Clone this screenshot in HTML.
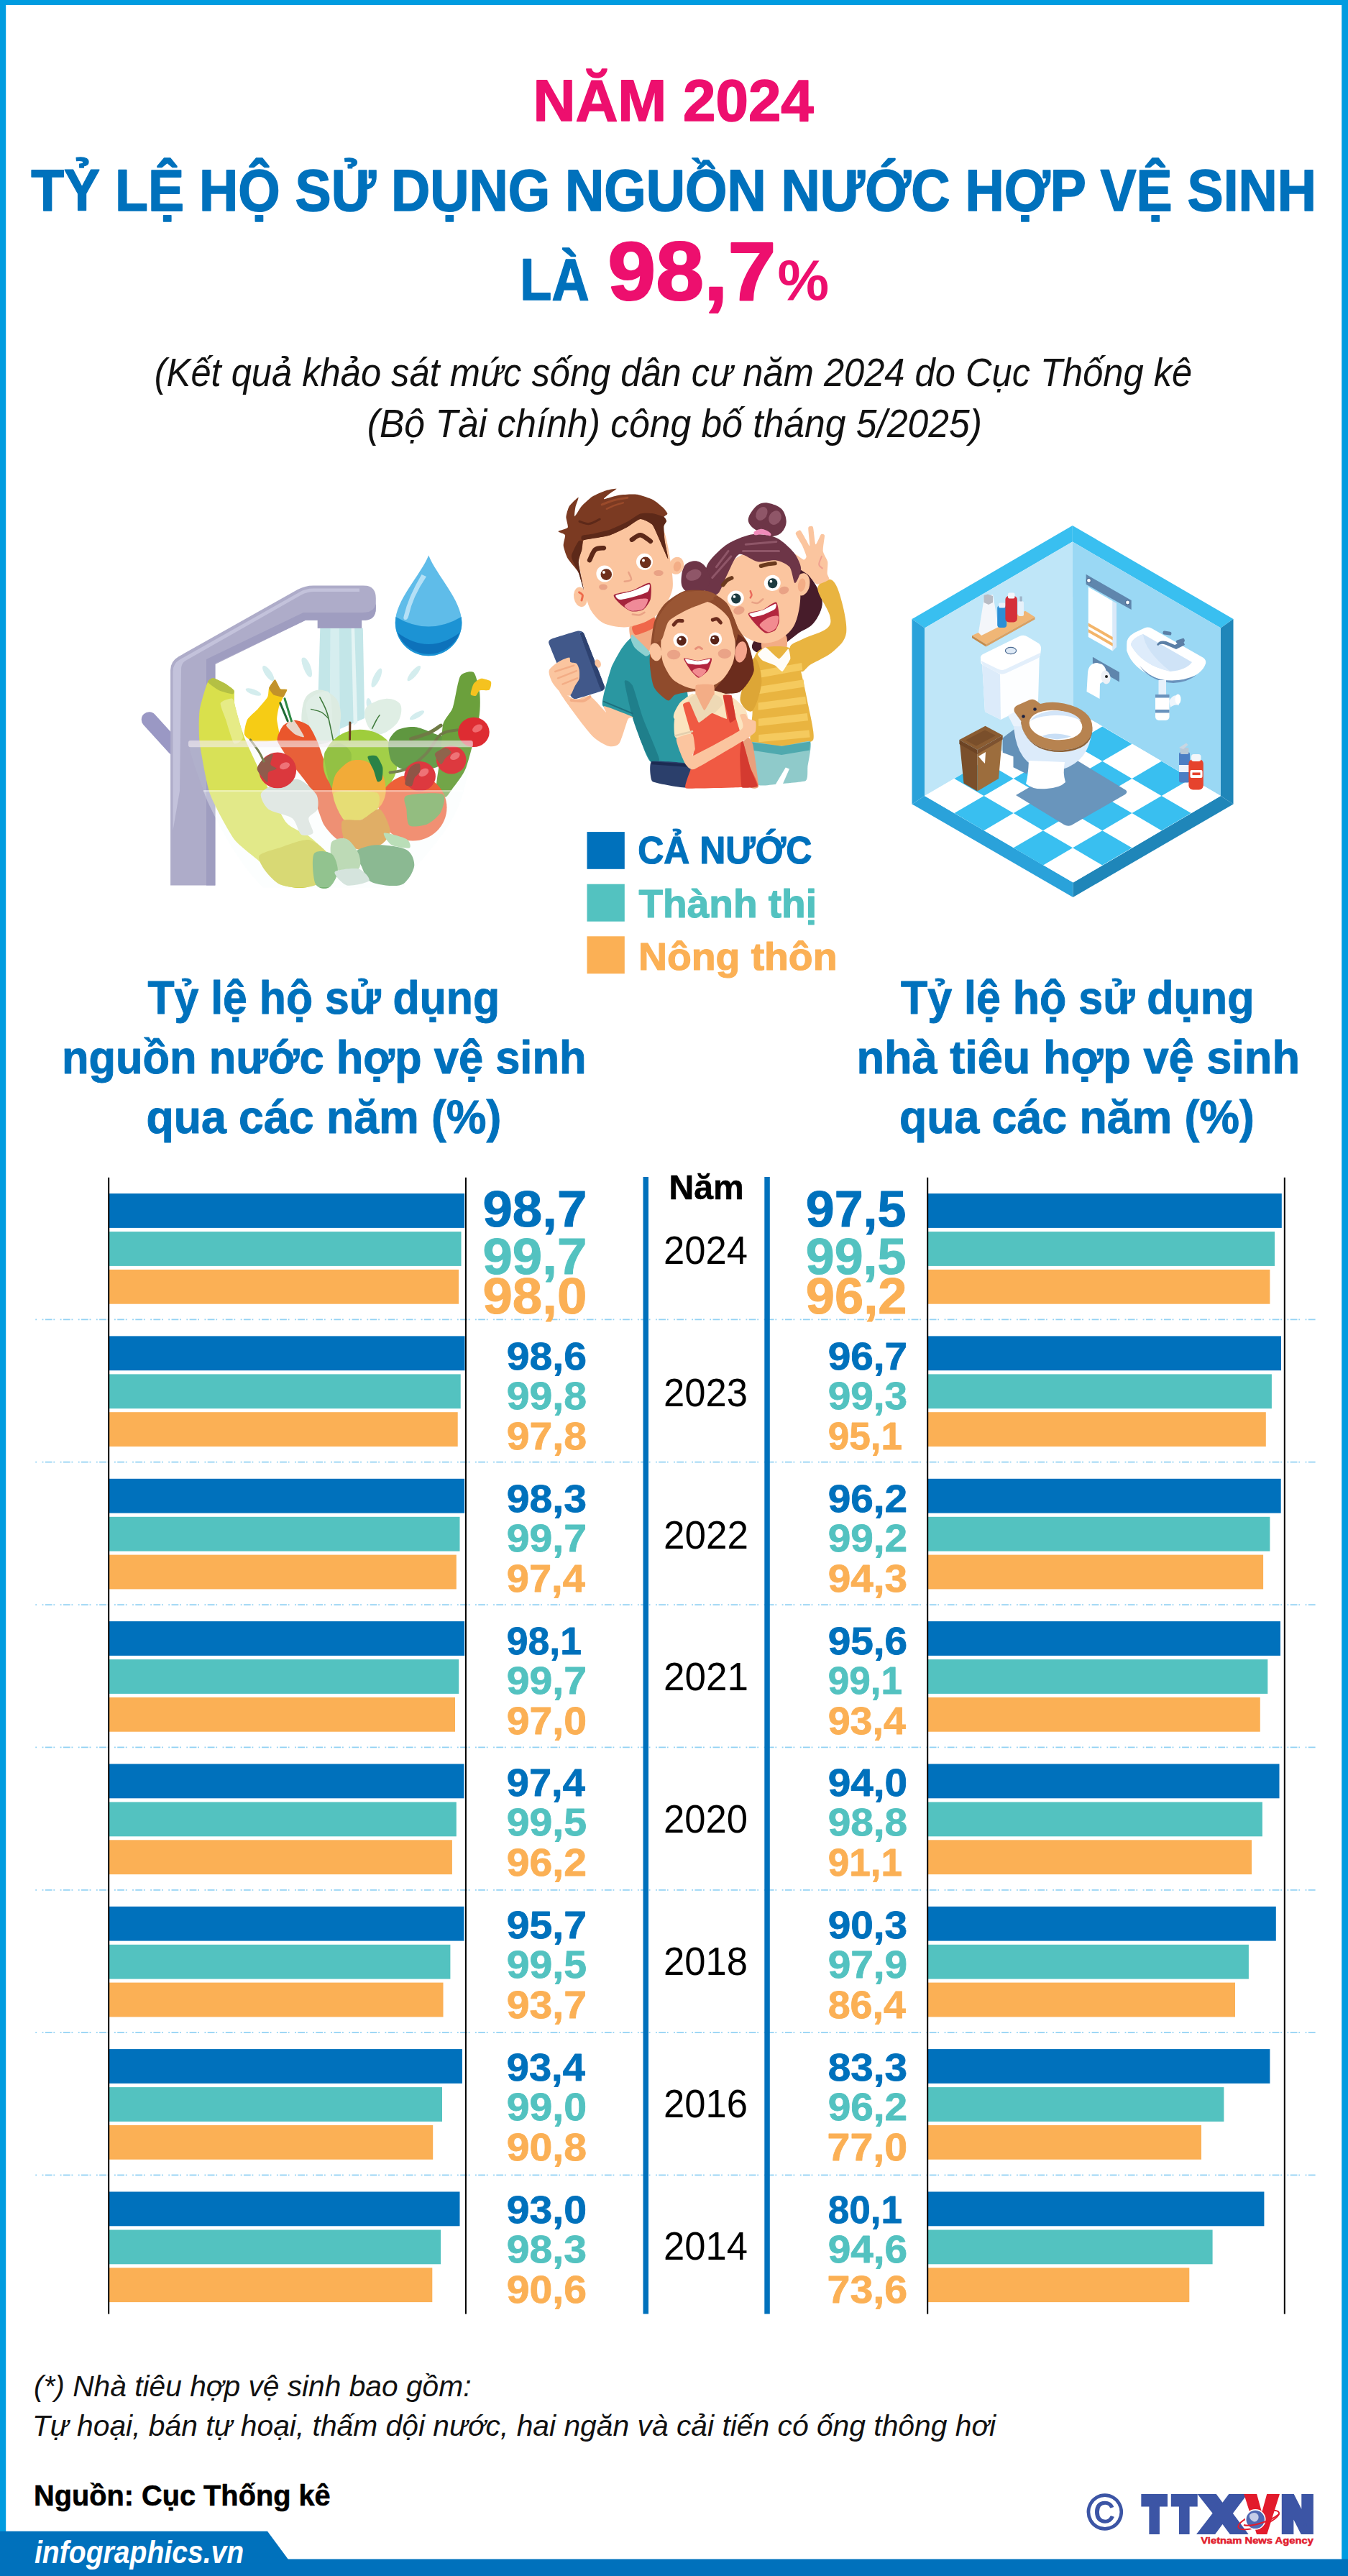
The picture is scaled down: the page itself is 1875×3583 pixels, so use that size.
<!DOCTYPE html>
<html lang="vi"><head><meta charset="utf-8"><title>Tỷ lệ hộ sử dụng nguồn nước hợp vệ sinh năm 2024</title>
<style>html,body{margin:0;padding:0;background:#fff}svg{display:block}text{font-family:'Liberation Sans',sans-serif;white-space:pre}</style>
</head><body>
<svg width="1875" height="3583" viewBox="0 0 1875 3583">
<rect x="0" y="0" width="1875" height="3583" fill="#fff"/>
<rect x="0" y="0" width="1875" height="7" fill="#009ce0"/>
<rect x="0" y="0" width="8.2" height="3583" fill="#009ce0"/>
<rect x="1866.2" y="0" width="8.8" height="3583" fill="#009ce0"/>
<rect x="0" y="3559.5" width="1875" height="23.5" fill="#0071bc"/>
<polygon points="0,3520.8 372,3520.8 401,3560 0,3560" fill="#0071bc"/>
<g id="veg">
<line x1="207.5" y1="1001" x2="243" y2="1040" stroke="#9a98c4" stroke-width="21.5" stroke-linecap="round"/>
<polygon points="445.3,873.8 504.8,873.8 507.2,998.9 440.8,1028.0" fill="#c3e6e8" />
<polygon points="459.5,873.8 471.9,873.8 473.0,1025.9 458.4,1028.0" fill="#d6eeef" />
<polygon points="488.6,873.8 493.1,873.8 497.3,1005.1 491.7,1009.3" fill="#e4f4f4" />
<ellipse cx="426.2" cy="926.2" rx="4.6" ry="12.5" fill="#d4edee" transform="rotate(-25 426.2 926.2)" />
<ellipse cx="523.9" cy="942.8" rx="4.6" ry="14.5" fill="#d4edee" transform="rotate(25 523.9 942.8)" />
<ellipse cx="575.8" cy="936.6" rx="4.2" ry="13.5" fill="#d4edee" transform="rotate(40 575.8 936.6)" />
<ellipse cx="580.0" cy="994.7" rx="3.7" ry="11.4" fill="#d4edee" transform="rotate(60 580.0 994.7)" />
<ellipse cx="513.5" cy="980.2" rx="3.7" ry="9.3" fill="#d4edee" transform="rotate(-10 513.5 980.2)" />
<ellipse cx="373.2" cy="936.6" rx="4.6" ry="12.5" fill="#d4edee" transform="rotate(-35 373.2 936.6)" />
<ellipse cx="427.2" cy="928.3" rx="5.0" ry="14.5" fill="#d4edee" transform="rotate(-20 427.2 928.3)" />
<ellipse cx="352.4" cy="962.5" rx="3.7" ry="11.4" fill="#d4edee" transform="rotate(-70 352.4 962.5)" />
<path d="M424.2 971.9 C428.3 963.6 437.7 959.4 444.9 959.4 C452.2 959.4 462.9 965.3 467.8 971.9 C472.6 978.5 474.7 989.5 474.0 998.9 C473.3 1008.2 470.2 1022.1 463.6 1028.0 C457.0 1033.9 441.8 1037.3 434.5 1034.2 C427.3 1031.1 421.7 1019.7 420.0 1009.3 C418.3 998.9 420.0 980.2 424.2 971.9Z" fill="#dcebe1" />
<path d="M509.3 984.3 C513.5 978.1 528.4 972.6 536.3 971.9 C544.3 971.2 554.3 974.7 557.1 980.2 C559.9 985.7 557.8 998.2 552.9 1005.1 C548.1 1012.0 534.9 1021.0 528.0 1021.7 C521.1 1022.4 514.5 1015.5 511.4 1009.3 C508.3 1003.0 505.2 990.6 509.3 984.3Z" fill="#dfeee4" />
<path d="M427.2 976.0 C430.5 970.0 442.5 963.6 448.0 962.5 C453.4 961.5 458.0 958.9 460.0 969.8 C462.0 980.7 463.8 1018.3 460.0 1028.0 C456.3 1037.7 442.9 1032.8 437.6 1028.0 C432.3 1023.1 430.0 1007.5 428.2 998.9 C426.5 990.2 423.9 982.1 427.2 976.0Z" fill="#e0eee6" />
<path d="M444.9 969.8 C446.7 973.6 452.0 981.6 455.3 992.7 C458.6 1003.7 463.1 1029.0 464.7 1036.3" fill="none" stroke="#3f7a3c" stroke-width="1.6" stroke-linecap="round" stroke-linejoin="round" />
<path d="M432.5 986.4 C434.9 987.1 443.0 988.5 447.0 990.6 C451.0 992.7 454.8 997.5 456.4 998.9" fill="none" stroke="#3f7a3c" stroke-width="1.3" stroke-linecap="round" stroke-linejoin="round" />
<path d="M517.6 1013.4 C518.7 1011.4 522.1 1004.1 523.9 1001.0 C525.6 997.8 527.3 995.8 528.0 994.7" fill="none" stroke="#3f7a3c" stroke-width="1.5" stroke-linecap="round" stroke-linejoin="round" />
<path d="M237.1 1231.5 L237.1 932 Q237.1 920 248 913.5 L414 820 Q424 814.4 436 814.4 L505 814.4 Q522.8 814.4 522.8 832 L522.8 846 Q522.8 862.8 506 862.8 L503.1 862.8 L503.1 873.8 L441.8 873.8 L441.8 862.8 L425 862.8 L299.4 924 L299.4 1231.5 Z" fill="#aeacc9"/>
<path d="M287 928.5 L425 862.8 L441.8 862.8 L441.8 873.8 L503.1 873.8 L503.1 862.8 L506 862.8 Q522.8 862.8 522.8 846 L522.8 840 Q520 852 505 852 L422 852 L287 917 Z" fill="#9f9dc0"/>
<rect x="287" y="920" width="12.4" height="311.5" fill="#9f9dc0"/>
<path d="M240.5 1155 L240.5 934 Q240.5 923 250 917.5 L416 824 Q425 818.5 436 818.5 L500 818.5 L500 823 L437 823 Q427 823 419 827.5 L258 919 Q252 923 252 931 L250 1100 Z" fill="#c3c2db"/>
<path d="M596.2 772.5 C 585 800 549.8 835 549.8 866 A46.3 46.3 0 0 0 642.4 866 C 642.4 835 607 800 596.2 772.5Z" fill="#5fbce9"/>
<path d="M550.5 858 Q596 885 641.8 858 L642.4 866 A46.3 46.3 0 0 1 549.8 866 Z" fill="#1c93d4"/>
<path d="M553 880 Q596 912 639.5 880 A46.3 46.3 0 0 1 553 880 Z" fill="#0d72bb"/>
<path d="M586.5 799 Q568 830 562 856 Q560 862 564 862 Q567 862 568.5 856 Q574 830 593 802 Z" fill="#b4e0f6"/>
<path d="M277.6 988.3 C278.7 980.2 286.1 955.4 288.0 950.9 C289.9 946.5 293.8 943.6 296.3 943.6 C298.8 943.6 310.0 949.3 312.9 950.9 C315.9 952.6 324.1 957.4 325.4 960.3 C326.8 963.2 325.0 973.5 326.4 980.0 C327.9 986.5 335.9 1015.3 340.0 1025.7 C344.0 1036.1 361.1 1072.0 367.0 1083.9 C372.8 1095.7 391.9 1136.2 398.1 1144.1 C404.3 1152.0 423.5 1158.4 429.3 1162.8 C435.1 1167.2 453.3 1183.2 456.3 1187.7 C459.3 1192.3 460.2 1204.6 459.4 1208.5 C458.6 1212.4 452.0 1224.5 448.0 1227.2 C443.9 1229.9 424.9 1234.9 418.9 1235.1 C412.9 1235.3 393.5 1233.0 387.7 1229.3 C381.9 1225.6 367.0 1204.3 360.7 1198.1 C354.5 1191.9 332.3 1176.3 325.4 1167.0 C318.6 1157.6 297.0 1118.1 292.2 1104.6 C287.4 1091.1 279.1 1043.6 277.6 1031.9 C276.2 1020.3 276.6 996.4 277.6 988.3Z" fill="#d9e04c" />
<path d="M289.1 948.8 C288.2 947.1 293.9 942.9 296.3 943.0 C298.7 943.2 310.0 948.8 312.9 950.5 C315.9 952.2 324.4 958.8 325.4 960.3 C326.4 961.8 325.4 965.5 323.3 965.5 C321.3 965.5 308.1 961.9 304.6 960.3 C301.2 958.6 289.9 950.6 289.1 948.8Z" fill="#b4c044" />
<path d="M306.7 977.9 C307.6 975.0 321.0 970.2 323.3 971.7 C325.6 973.1 328.1 987.1 329.6 992.5 C331.0 997.9 338.3 1021.5 337.9 1025.7 C337.5 1029.9 327.8 1036.5 325.4 1034.0 C323.0 1031.5 315.9 1006.4 314.0 1000.8 C312.1 995.2 305.8 980.8 306.7 977.9Z" fill="#e6eb86" />
<path d="M360.7 1189.8 C363.5 1185.9 378.6 1182.3 387.7 1179.4 C396.9 1176.5 420.1 1166.9 429.3 1168.0 C438.4 1169.1 452.3 1182.3 456.3 1187.7 C460.3 1193.1 460.5 1203.2 459.4 1208.5 C458.3 1213.8 453.4 1223.7 448.0 1227.2 C442.6 1230.7 426.9 1234.8 418.9 1235.1 C410.9 1235.4 394.7 1232.8 387.7 1229.3 C380.8 1225.7 370.6 1213.8 367.0 1208.5 C363.4 1203.2 358.0 1193.7 360.7 1189.8Z" fill="#c9c82c" />
<path d="M340.0 1021.5 C339.1 1018.5 342.2 1004.3 344.1 1000.8 C346.0 997.2 355.8 989.3 358.6 986.2 C361.4 983.1 370.6 972.5 372.1 969.6 C373.7 966.7 373.2 959.5 374.2 957.1 C375.3 954.8 381.0 945.6 382.5 945.7 C384.1 945.8 388.1 956.8 389.8 958.2 C391.5 959.5 398.7 958.1 399.2 959.2 C399.6 960.4 395.1 967.1 394.0 969.6 C392.8 972.1 388.6 981.0 387.7 984.2 C386.9 987.3 385.2 996.3 385.2 1000.8 C385.2 1005.2 391.0 1025.8 387.7 1028.8 C384.4 1031.8 357.2 1031.6 352.4 1030.9 C347.6 1030.2 340.8 1024.6 340.0 1021.5Z" fill="#f6cc15" />
<path d="M374.2 957.1 C374.4 955.7 381.5 945.0 382.5 945.1 C383.6 945.2 388.7 957.2 389.8 958.2 C390.9 959.1 398.9 958.5 399.2 959.2 C399.4 960.0 395.2 969.1 394.0 969.6 C392.7 970.1 381.8 967.3 380.5 966.5 C379.1 965.7 374.1 958.6 374.2 957.1Z" fill="#c2922a" />
<path d="M385.7 1029.9 C384.4 1024.5 391.5 1011.9 394.0 1009.1 C396.5 1006.3 407.0 1001.8 410.6 1001.8 C414.1 1001.8 426.2 1006.1 429.3 1009.1 C432.4 1012.1 439.0 1025.5 441.7 1031.9 C444.4 1038.4 453.4 1066.2 456.3 1073.5 C459.2 1080.7 467.9 1097.0 470.8 1104.6 C473.7 1112.3 484.1 1144.5 485.4 1150.3 C486.6 1156.2 484.9 1161.1 483.3 1162.8 C481.6 1164.5 472.1 1168.6 468.7 1167.0 C465.4 1165.3 453.8 1153.2 450.0 1146.2 C446.3 1139.1 435.7 1104.6 431.4 1096.3 C427.0 1088.0 411.0 1069.7 406.4 1063.1 C401.9 1056.4 386.9 1035.3 385.7 1029.9Z" fill="#ea562c" />
<path d="M398.1 1009.1 C397.9 1007.1 406.0 1000.3 408.5 1001.8 C411.0 1003.4 422.8 1022.7 423.0 1024.7 C423.2 1026.6 413.1 1023.1 410.6 1021.5 C408.1 1020.0 398.3 1011.1 398.1 1009.1Z" fill="#e8d4c8" />
<path d="M389.8 977.9 L400.2 1002.9" fill="none" stroke="#1f6a35" stroke-width="3" stroke-linecap="round" stroke-linejoin="round" />
<path d="M396.0 971.7 L405.4 1002.9" fill="none" stroke="#2f8a45" stroke-width="3" stroke-linecap="round" stroke-linejoin="round" />
<path d="M362.8 1104.6 C363.6 1100.2 372.5 1094.9 379.4 1092.2 C386.3 1089.4 406.7 1082.2 414.7 1083.9 C422.8 1085.5 436.1 1099.1 439.7 1104.6 C443.3 1110.2 443.1 1121.0 441.7 1125.4 C440.4 1129.8 430.1 1133.4 429.3 1137.9 C428.4 1142.3 436.9 1155.6 435.5 1158.6 C434.1 1161.7 422.8 1163.5 418.9 1160.7 C415.0 1158.0 412.5 1142.6 406.4 1137.9 C400.3 1133.2 379.0 1129.8 373.2 1125.4 C367.4 1121.0 362.0 1109.1 362.8 1104.6Z" fill="#d6dfd8" />
<ellipse cx="501.0" cy="1062.1" rx="51.5" ry="47.4" fill="#9fcd3c" />
<path d="M451.2 1048.6 C452.5 1040.2 466.9 1034.0 471.9 1034.0 C476.9 1034.0 487.2 1041.3 488.6 1048.6 C489.9 1055.8 485.9 1081.6 482.3 1088.0 C478.7 1094.4 465.7 1101.6 461.5 1096.3 C457.4 1091.1 449.8 1056.9 451.2 1048.6Z" fill="#8ebe37" />
<path d="M486.9 1004.9 L486.5 1028.8" fill="none" stroke="#6b3d20" stroke-width="3" stroke-linecap="round" stroke-linejoin="round" />
<path d="M540.5 1031.9 C541.6 1026.1 548.0 1018.1 552.9 1015.3 C557.9 1012.5 570.7 1010.3 577.9 1011.2 C585.1 1012.0 600.3 1019.1 607.0 1021.5 C613.6 1024.0 624.7 1026.3 627.7 1029.9 C630.8 1033.5 632.6 1043.6 629.8 1048.6 C627.0 1053.5 615.5 1064.2 607.0 1067.2 C598.4 1070.3 573.7 1072.5 565.4 1071.4 C557.1 1070.3 548.0 1064.2 544.6 1058.9 C541.3 1053.7 539.4 1037.7 540.5 1031.9Z" fill="#5f9740" />
<path d="M616.3 1007.0 C618.2 999.5 627.0 991.9 629.8 984.2 C632.6 976.4 636.8 946.2 640.2 940.5 C643.6 934.8 655.7 932.7 658.9 935.3 C662.0 938.0 666.3 956.0 667.2 963.4 C668.0 970.8 668.3 986.6 666.2 998.7 C664.0 1010.8 652.7 1055.9 648.5 1067.2 C644.3 1078.6 633.2 1091.5 629.8 1096.3 C626.4 1101.2 622.1 1108.8 619.4 1108.8 C616.8 1108.8 607.7 1103.4 607.0 1096.3 C606.2 1089.3 612.1 1059.0 613.2 1048.6 C614.3 1038.1 614.4 1014.5 616.3 1007.0Z" fill="#6ba03c" />
<path d="M654.7 965.7 C654.4 963.7 657.2 953.7 658.9 951.1 C660.6 948.6 666.5 944.2 669.3 943.8 C672.1 943.5 681.4 946.2 682.8 948.0 C684.1 949.8 682.5 958.0 680.7 959.4 C678.9 960.9 669.4 959.5 667.2 960.5 C665.0 961.4 663.5 967.1 662.0 967.7 C660.5 968.3 655.1 967.6 654.7 965.7Z" fill="#f5c21f" />
<ellipse cx="574.1" cy="1123.3" rx="47.4" ry="46.1" fill="#f0562a" />
<path d="M462.6 1104.6 C460.5 1097.7 463.6 1083.7 466.7 1077.6 C469.9 1071.5 480.8 1061.4 486.5 1058.9 C492.2 1056.4 503.2 1056.4 509.3 1058.9 C515.4 1061.4 528.6 1071.5 532.2 1077.6 C535.8 1083.7 537.4 1098.3 536.3 1104.6 C535.2 1111.0 531.1 1122.1 523.9 1125.4 C516.7 1128.7 490.5 1132.3 482.3 1129.6 C474.1 1126.8 464.7 1111.6 462.6 1104.6Z" fill="#f5a62a" />
<path d="M511.4 1052.7 C511.9 1050.4 521.4 1050.0 523.9 1051.7 C526.3 1053.4 531.3 1063.5 532.2 1067.2 C533.0 1071.0 532.0 1081.6 531.1 1083.9 C530.3 1086.2 526.2 1088.4 524.9 1087.0 C523.6 1085.5 521.3 1075.4 519.7 1071.4 C518.1 1067.4 510.9 1055.0 511.4 1052.7Z" fill="#1e7a3a" />
<path d="M464.7 1102.6 C470.0 1098.2 516.8 1099.9 523.9 1102.6 C530.9 1105.2 527.3 1121.0 524.9 1125.4 C522.5 1129.8 508.5 1138.3 503.1 1140.0 C497.6 1141.6 482.6 1144.3 478.2 1140.0 C473.7 1135.6 459.3 1106.9 464.7 1102.6Z" fill="#decd2d" />
<path d="M476.1 1142.0 C479.1 1137.9 496.2 1142.2 503.1 1140.0 C510.0 1137.7 522.8 1123.5 528.0 1125.4 C533.3 1127.3 542.0 1148.1 542.6 1154.5 C543.1 1160.9 537.4 1169.4 532.2 1173.2 C526.9 1176.9 510.0 1182.8 503.1 1182.5 C496.2 1182.3 483.8 1176.5 480.2 1171.1 C476.6 1165.7 473.0 1146.2 476.1 1142.0Z" fill="#d48416" />
<path d="M565.4 1106.7 C572.1 1103.9 608.9 1101.6 615.3 1104.6 C621.6 1107.7 616.0 1124.0 613.2 1129.6 C610.4 1135.1 600.3 1143.7 594.5 1146.2 C588.7 1148.7 573.4 1151.0 569.6 1148.3 C565.7 1145.5 566.0 1130.9 565.4 1125.4 C564.9 1119.9 558.8 1109.5 565.4 1106.7Z" fill="#5f9c3e" />
<path d="M542.6 1074.5 C546.4 1073.7 557.1 1073.7 565.4 1069.3 C573.7 1065.0 584.5 1056.5 592.4 1048.6 C600.4 1040.6 605.9 1027.1 613.2 1021.5 C620.5 1016.0 632.2 1016.4 636.0 1015.3" fill="none" stroke="#6f7a45" stroke-width="4" stroke-linecap="round" stroke-linejoin="round" />
<path d="M571.6 1027.8 C575.8 1026.4 589.6 1022.6 596.6 1019.5 C603.5 1016.4 610.4 1010.8 613.2 1009.1" fill="none" stroke="#6f7a45" stroke-width="5" stroke-linecap="round" stroke-linejoin="round" />
<ellipse cx="658.9" cy="1018.4" rx="21.8" ry="20.7" fill="#de2c32" />
<ellipse cx="664.1" cy="1013.2" rx="7.6" ry="4.8" fill="#f06a6e" transform="rotate(-30 664.1 1013.2)" />
<ellipse cx="627.7" cy="1056.9" rx="20.8" ry="19.7" fill="#de2c32" />
<ellipse cx="632.9" cy="1051.7" rx="7.3" ry="4.6" fill="#f06a6e" transform="rotate(-30 632.9 1051.7)" />
<ellipse cx="584.1" cy="1079.7" rx="21.8" ry="20.7" fill="#de2c32" />
<ellipse cx="589.3" cy="1074.5" rx="7.6" ry="4.8" fill="#f06a6e" transform="rotate(-30 589.3 1074.5)" />
<path d="M563.3 1090.1 C563.1 1086.6 568.0 1071.0 570.6 1067.2 C573.2 1063.5 581.3 1061.2 583.1 1062.1 C584.9 1062.9 584.9 1070.8 584.1 1073.5 C583.3 1076.1 578.4 1079.2 576.8 1081.8 C575.3 1084.4 574.5 1092.1 572.7 1093.2 C570.9 1094.3 563.6 1093.6 563.3 1090.1Z" fill="#8a4a3a" />
<path d="M604.9 1048.6 C605.7 1045.5 616.4 1040.5 619.4 1040.2 C622.5 1040.0 627.7 1044.5 627.7 1046.5 C627.7 1048.4 621.4 1052.6 619.4 1054.8 C617.5 1057.0 615.1 1063.9 613.2 1063.1 C611.2 1062.3 604.0 1051.6 604.9 1048.6Z" fill="#8a5a40" />
<ellipse cx="386.1" cy="1071.4" rx="26.0" ry="24.9" fill="#dc2a30" />
<path d="M357.6 1069.3 C357.7 1066.3 362.0 1059.6 364.9 1056.9 C367.8 1054.1 377.9 1047.7 379.4 1048.6 C380.9 1049.4 375.6 1060.3 376.3 1063.1 C377.0 1065.9 385.0 1067.8 384.6 1069.3 C384.2 1070.8 374.8 1072.0 373.2 1074.5 C371.5 1077.0 373.4 1087.3 372.1 1088.0 C370.9 1088.7 365.8 1082.2 363.8 1079.7 C361.9 1077.2 357.5 1072.4 357.6 1069.3Z" fill="#8a5040" />
<path d="M348.3 1028.8 C350.3 1031.8 357.6 1041.5 360.7 1046.5 C363.8 1051.5 365.9 1056.9 367.0 1058.9" fill="none" stroke="#6f7a45" stroke-width="3" stroke-linecap="round" stroke-linejoin="round" />
<ellipse cx="396.0" cy="1065.2" rx="7.3" ry="4.6" fill="#f06a6e" transform="rotate(-20 396.0 1065.2)" />
<path d="M494.8 1184.6 C497.9 1180.1 513.3 1175.7 523.9 1175.3 C534.5 1174.9 557.6 1177.5 565.4 1181.9 C573.3 1186.3 576.8 1197.2 576.2 1204.3 C575.6 1211.4 567.2 1225.2 561.3 1229.3 C555.3 1233.3 543.5 1232.0 536.3 1231.4 C529.2 1230.7 518.5 1229.0 513.5 1225.1 C508.5 1221.2 505.9 1211.5 503.1 1205.4 C500.3 1199.3 491.7 1189.1 494.8 1184.6Z" fill="#52955a" />
<path d="M461.5 1171.1 C464.7 1166.7 476.7 1164.5 482.3 1167.0 C487.9 1169.4 496.4 1181.5 498.9 1187.7 C501.4 1194.0 502.7 1204.8 498.9 1208.5 C495.2 1212.2 479.6 1214.5 474.0 1212.7 C468.4 1210.8 463.4 1202.3 461.5 1196.0 C459.7 1189.8 458.4 1175.5 461.5 1171.1Z" fill="#9fc991" />
<path d="M436.6 1187.7 C440.0 1181.5 456.6 1184.0 461.5 1187.7 C466.5 1191.5 470.5 1205.6 469.9 1212.7 C469.2 1219.7 462.1 1232.0 457.4 1234.5 C452.7 1237.0 441.8 1236.3 438.7 1229.3 C435.6 1222.3 433.2 1194.0 436.6 1187.7Z" fill="#5ca555" />
<path d="M534.3 1158.6 C537.0 1157.5 560.7 1164.2 565.4 1167.0 C570.1 1169.7 572.3 1178.3 569.6 1179.4 C566.8 1180.5 549.3 1178.0 544.6 1175.3 C539.9 1172.5 531.5 1159.8 534.3 1158.6Z" fill="#9bcf94" />
<path d="M465.7 1212.7 C467.9 1209.6 492.6 1206.8 498.9 1208.5 C505.3 1210.2 515.7 1222.1 513.5 1225.1 C511.3 1228.2 488.7 1233.0 482.3 1231.4 C475.9 1229.7 463.5 1215.7 465.7 1212.7Z" fill="#c3d8cd" />
<path d="M283 1100.5 L645 1100.5 Q636 1132 617 1158.6 Q597 1186 576 1208.5 L561 1234.5 L366 1234.5 Q330 1200 296 1130 Q288 1115 283 1100.5Z" fill="#ffffff" opacity="0.3"/>
<path d="M262 1034.5 L657.8 1034.5 L651 1075 L644 1104.6 Q636 1132 617 1158.6 Q597 1186 576 1208.5 L561 1234.5 L366 1234.5 Q330 1200 296 1130 Q270 1070 262 1034.5Z" fill="#cfeaf0" opacity="0.07"/>
<rect x="262" y="1029.9" width="395.8" height="9.3" rx="3" fill="#f3eef2" opacity="0.62"/>
<rect x="283" y="1099" width="361" height="2.2" fill="#ffffff" opacity="0.5"/>
</g>
<g id="family">
<path d="M1105.8 781.3 C1110.7 780.0 1121.7 794.3 1128.0 803.5 C1134.4 812.8 1143.2 826.4 1143.8 836.9 C1144.4 847.4 1137.5 859.2 1131.8 866.6 C1126.0 874.0 1116.9 876.2 1109.5 881.4 C1102.1 886.7 1095.3 893.5 1087.2 898.1 C1079.2 902.8 1068.1 909.6 1061.3 909.2 C1054.5 908.9 1043.3 905.2 1046.4 896.3 C1049.5 887.3 1071.2 869.7 1079.8 855.5 C1088.5 841.2 1094.0 823.3 1098.4 810.9 C1102.7 798.6 1100.8 782.5 1105.8 781.3Z" fill="#471c2a" />
<path d="M1098.4 901.8 C1099.0 894.4 1108.3 893.5 1116.9 888.8 C1125.6 884.2 1144.1 879.6 1150.3 874.0 C1156.5 868.4 1156.2 864.7 1154.0 855.5 C1151.8 846.2 1137.0 826.6 1137.3 818.4 C1137.6 810.2 1150.6 804.5 1155.9 806.3 C1161.1 808.2 1165.3 817.3 1168.8 829.5 C1172.4 841.7 1178.7 866.9 1177.2 879.6 C1175.6 892.2 1167.8 898.1 1159.6 905.5 C1151.4 913.0 1135.8 919.4 1128.0 924.1 C1120.3 928.7 1118.2 937.1 1113.2 933.4 C1108.3 929.6 1097.7 909.2 1098.4 901.8Z" fill="#e9b440" />
<path d="M1136.4 812.8 C1133.5 812.2 1126.8 802.0 1124.3 799.8 C1121.8 797.6 1113.9 793.1 1111.4 790.5 C1108.8 788.0 1099.9 776.8 1099.3 774.8 C1098.6 772.7 1103.0 769.8 1104.9 770.1 C1106.7 770.5 1116.2 778.1 1117.8 778.5 C1119.5 778.9 1121.7 775.8 1121.6 773.9 C1121.4 771.9 1117.5 762.2 1116.0 759.0 C1114.5 755.9 1107.0 744.5 1106.7 742.3 C1106.4 740.2 1111.7 736.8 1113.2 737.7 C1114.7 738.6 1120.3 749.5 1121.6 751.6 C1122.8 753.7 1125.9 760.8 1126.2 759.0 C1126.5 757.3 1123.9 736.6 1124.3 734.0 C1124.8 731.4 1129.8 730.7 1130.8 733.1 C1131.8 735.4 1133.4 756.1 1134.5 757.2 C1135.6 758.2 1140.7 744.5 1142.0 743.3 C1143.2 742.1 1146.7 742.8 1147.0 745.1 C1147.2 747.4 1144.3 762.8 1144.7 766.4 C1145.2 770.1 1150.6 778.1 1151.2 781.3 C1151.8 784.4 1150.5 795.5 1150.7 798.0 C1150.9 800.5 1154.5 804.8 1153.1 806.3 C1151.7 807.8 1139.3 813.5 1136.4 812.8Z" fill="#fbc59f" />
<path d="M1142.9 773.9 C1142.3 775.7 1139.0 782.2 1139.2 785.0 C1139.3 787.8 1143.0 789.6 1143.8 790.5" fill="none" stroke="#f0a090" stroke-width="2" stroke-linecap="round" stroke-linejoin="round" />
<path d="M1061.3 888.8 C1066.2 883.9 1087.9 878.3 1092.8 883.3 C1097.7 888.2 1093.4 911.7 1090.9 918.5 C1088.5 925.3 1082.6 925.0 1078.0 924.1 C1073.3 923.2 1065.9 918.8 1063.1 913.0 C1060.3 907.1 1056.3 893.8 1061.3 888.8Z" fill="#f3ad86" />
<path d="M1051.1 909.9 C1055.0 902.5 1064.0 900.5 1068.7 899.7 C1073.4 898.8 1093.9 898.4 1098.4 901.5 C1102.8 904.7 1110.6 923.2 1113.2 931.2 C1115.8 939.2 1122.6 971.4 1124.3 981.3 C1126.1 991.1 1134.5 1023.8 1130.8 1029.5 C1127.1 1035.2 1095.9 1037.5 1087.2 1037.8 C1078.6 1038.2 1048.7 1038.1 1044.6 1033.2 C1040.5 1028.3 1047.9 994.6 1046.4 988.7 C1045.0 982.8 1029.3 981.7 1029.7 973.9 C1030.2 966.0 1047.2 917.3 1051.1 909.9Z" fill="#e9b440" />
<polygon points="1053.9,933.1 1115.1,921.9 1116.2,932.1 1053.9,943.3" fill="#f5ca5e" />
<polygon points="1054.2,955.3 1117.7,945.3 1118.8,955.5 1054.2,965.5" fill="#f5ca5e" />
<polygon points="1054.6,977.6 1120.3,968.7 1121.4,978.9 1054.6,987.8" fill="#f5ca5e" />
<polygon points="1055.0,999.8 1122.8,992.0 1124.0,1002.2 1055.0,1010.0" fill="#f5ca5e" />
<polygon points="1055.3,1022.1 1125.4,1015.4 1126.6,1025.6 1055.3,1032.3" fill="#f5ca5e" />
<path d="M1050.1 914.5 C1053.5 915.7 1060.0 935.5 1059.4 947.9 C1058.8 960.3 1051.4 984.4 1046.4 988.7 C1041.5 993.0 1031.0 981.9 1029.7 973.9 C1028.5 965.8 1035.6 950.4 1039.0 940.5 C1042.4 930.6 1046.7 913.3 1050.1 914.5Z" fill="#dda636" />
<path d="M1053.9 909.9 C1054.1 908.6 1063.0 900.2 1065.0 900.6 C1067.0 901.0 1081.4 916.2 1083.5 916.4 C1085.6 916.5 1095.5 902.5 1096.5 902.5 C1097.6 902.5 1099.9 914.3 1099.3 916.4 C1098.7 918.5 1089.6 933.4 1088.2 934.0 C1086.7 934.6 1079.8 926.6 1078.0 925.6 C1076.2 924.6 1062.9 920.2 1061.3 919.1 C1059.7 918.1 1053.6 911.1 1053.9 909.9Z" fill="#fffdf8" />
<path d="M1044.6 1032.3 C1047.8 1030.3 1080.4 1037.9 1087.2 1037.8 C1094.1 1037.8 1124.1 1029.0 1127.1 1031.4 C1130.1 1033.7 1123.9 1062.0 1123.4 1066.6 C1122.9 1071.1 1124.3 1084.1 1120.6 1086.1 C1117.0 1088.1 1085.4 1090.2 1079.8 1090.7 C1074.3 1091.2 1056.5 1094.1 1053.9 1091.6 C1051.2 1089.2 1049.1 1066.0 1048.3 1061.0 C1047.5 1056.1 1041.3 1034.2 1044.6 1032.3Z" fill="#8fcaca" />
<polygon points="1044.6,1032.3 1087.2,1037.8 1127.1,1031.4 1126.2,1043.4 1087.2,1049.9 1045.5,1043.4" fill="#4fa9ae" />
<polygon points="1076.4,1094.9 1092.8,1067.4 1098.0,1069.4 1086.8,1094.9" fill="#ffffff" />
<path d="M996.4 818.4 C997.3 807.2 1004.4 796.7 1011.2 788.7 C1018.0 780.7 1025.7 773.2 1037.2 770.1 C1048.6 767.1 1068.1 767.1 1079.8 770.1 C1091.6 773.2 1102.1 780.7 1107.6 788.7 C1113.2 796.7 1112.6 808.5 1113.2 818.4 C1113.8 828.3 1113.2 838.8 1111.4 848.0 C1109.5 857.3 1107.3 866.7 1102.1 874.0 C1096.8 881.3 1087.9 888.4 1079.8 891.6 C1071.8 894.9 1062.5 895.5 1053.9 893.5 C1045.2 891.5 1035.9 885.9 1027.9 879.6 C1019.9 873.2 1010.9 865.7 1005.6 855.5 C1000.4 845.3 995.4 829.5 996.4 818.4Z" fill="#fbc59f" />
<ellipse cx="1116.0" cy="812.8" rx="10.2" ry="15.8" fill="#fbc59f" transform="rotate(10 1116.0 812.8)" />
<ellipse cx="1115.1" cy="813.7" rx="5.2" ry="9.3" fill="#f3ad86" transform="rotate(10 1115.1 813.7)" />
<path d="M977.8 812.8 C977.6 806.6 980.8 790.5 985.2 783.1 C989.7 775.7 1003.0 762.5 1011.2 757.2 C1019.4 751.8 1037.3 744.5 1046.4 743.3 C1055.6 742.0 1072.2 744.6 1079.8 747.9 C1087.5 751.2 1099.4 762.6 1103.9 768.3 C1108.5 774.0 1113.9 784.9 1114.1 790.5 C1114.4 796.2 1107.9 811.2 1105.8 810.9 C1103.7 810.7 1101.8 792.9 1098.4 788.7 C1094.9 784.5 1085.8 780.4 1079.8 779.4 C1073.9 778.4 1060.8 782.4 1053.9 781.3 C1046.9 780.2 1033.6 768.6 1027.9 771.1 C1022.2 773.5 1014.9 792.8 1011.2 799.8 C1007.5 806.9 1003.3 820.0 1000.1 823.9 C996.9 827.9 990.1 831.0 987.1 829.5 C984.1 828.0 978.1 819.0 977.8 812.8Z" fill="#6d3547" />
<path d="M1037.2 757.2 L1079.8 753.5" fill="none" stroke="#8f5668" stroke-width="3" stroke-linecap="round" stroke-linejoin="round" />
<path d="M1033.5 766.4 L1083.5 766.4" fill="none" stroke="#8f5668" stroke-width="3" stroke-linecap="round" stroke-linejoin="round" />
<path d="M996.4 788.7 L1013.1 766.4" fill="none" stroke="#8f5668" stroke-width="3" stroke-linecap="round" stroke-linejoin="round" />
<path d="M990.8 803.5 L1016.8 773.9" fill="none" stroke="#8f5668" stroke-width="3" stroke-linecap="round" stroke-linejoin="round" />
<path d="M1041.8 718.2 C1043.7 713.7 1049.4 705.5 1053.9 702.5 C1058.3 699.4 1063.1 698.7 1068.7 699.7 C1074.3 700.6 1083.1 703.7 1087.2 708.0 C1091.4 712.3 1093.7 720.2 1093.7 725.6 C1093.7 731.0 1090.8 737.1 1087.2 740.5 C1083.7 743.9 1078.0 746.3 1072.4 746.0 C1066.8 745.7 1058.8 741.4 1053.9 738.6 C1048.9 735.8 1044.7 732.7 1042.7 729.3 C1040.7 725.9 1039.9 722.7 1041.8 718.2Z" fill="#6d3547" />
<ellipse cx="1059.4" cy="714.5" rx="7.4" ry="10.2" fill="#8f5668" transform="rotate(30 1059.4 714.5)" />
<ellipse cx="1078.0" cy="720.1" rx="8.3" ry="10.2" fill="#8f5668" transform="rotate(30 1078.0 720.1)" />
<path d="M1049.2 739.5 C1050.8 738.2 1055.9 735.7 1059.4 735.8 C1063.0 736.0 1068.5 738.9 1070.5 740.5 C1072.6 742.0 1073.3 744.6 1071.5 745.1 C1069.6 745.6 1063.0 743.4 1059.4 743.3 C1055.9 743.1 1051.8 744.8 1050.1 744.2 C1048.4 743.6 1047.7 740.9 1049.2 739.5Z" fill="#f08cba" />
<path d="M948.1 799.8 C948.9 794.6 950.3 788.2 953.7 785.0 C957.1 781.7 963.9 779.7 968.5 780.3 C973.2 781.0 978.4 784.2 981.5 788.7 C984.6 793.2 987.4 801.7 987.1 807.2 C986.8 812.8 984.0 819.0 979.7 822.1 C975.3 825.2 966.2 826.7 961.1 825.8 C956.0 824.9 951.2 820.8 949.1 816.5 C946.9 812.2 947.4 805.1 948.1 799.8Z" fill="#6d3547" />
<ellipse cx="964.8" cy="799.8" rx="11.1" ry="7.4" fill="#8f5668" transform="rotate(-20 964.8 799.8)" />
<ellipse cx="1023.3" cy="832.3" rx="11.5" ry="10.8" fill="#fff" transform="rotate(-15 1023.3 832.3)" />
<ellipse cx="1023.8" cy="832.6" rx="6.7" ry="7.0" fill="#1d3b40" />
<ellipse cx="1074.3" cy="810.9" rx="11.5" ry="11.1" fill="#fff" transform="rotate(-15 1074.3 810.9)" />
<ellipse cx="1074.6" cy="811.3" rx="6.7" ry="7.0" fill="#1d3b40" />
<ellipse cx="1021.4" cy="829.9" rx="1.9" ry="1.9" fill="#fff" />
<ellipse cx="1072.4" cy="808.7" rx="1.9" ry="1.9" fill="#fff" />
<path d="M1005.6 813.7 C1006.6 812.6 1009.2 808.9 1011.2 807.2 C1013.2 805.6 1016.6 804.5 1017.7 803.9" fill="none" stroke="#6b3a1e" stroke-width="5.5" stroke-linecap="round" stroke-linejoin="round" />
<path d="M1058.5 787.2 C1060.2 786.8 1065.4 785.2 1068.7 784.6 C1071.9 784.0 1076.4 783.7 1078.0 783.5" fill="none" stroke="#6b3a1e" stroke-width="5.5" stroke-linecap="round" stroke-linejoin="round" />
<ellipse cx="1027.9" cy="849.0" rx="7.8" ry="5.6" fill="#e9a285" transform="rotate(-15 1027.9 849.0)" />
<ellipse cx="1090.4" cy="821.1" rx="7.0" ry="5.2" fill="#e9a285" transform="rotate(-15 1090.4 821.1)" />
<path d="M1040.9 853.6 C1041.8 851.0 1056.7 849.9 1061.3 848.0 C1065.8 846.2 1077.2 836.1 1079.8 837.8 C1082.5 839.6 1084.1 858.3 1083.9 862.9 C1083.7 867.4 1080.2 874.7 1078.0 876.8 C1075.8 878.8 1067.9 881.3 1065.0 880.5 C1062.1 879.7 1055.7 873.4 1052.9 870.3 C1050.1 867.2 1039.9 856.2 1040.9 853.6Z" fill="#b3263f" />
<path d="M1042.7 853.6 C1044.1 852.6 1057.7 849.8 1061.3 848.4 C1064.9 847.0 1077.2 839.8 1078.9 839.7 C1080.6 839.6 1079.5 845.6 1078.0 847.1 C1076.4 848.6 1066.2 853.4 1063.1 854.5 C1060.1 855.6 1049.4 858.3 1047.4 858.2 C1045.3 858.1 1041.3 854.6 1042.7 853.6Z" fill="#fff" />
<path d="M1056.6 869.4 C1056.6 866.7 1065.2 860.8 1068.7 859.2 C1072.2 857.6 1081.1 855.5 1082.6 857.3 C1084.1 859.2 1081.7 870.2 1079.8 873.1 C1078.0 876.0 1071.8 879.7 1068.7 879.2 C1065.6 878.7 1056.6 872.0 1056.6 869.4Z" fill="#f28b90" />
<path d="M1043.7 822.1 C1044.0 823.0 1045.5 826.1 1045.5 827.6 C1045.5 829.2 1044.0 830.7 1043.7 831.4" fill="none" stroke="#ea6a5c" stroke-width="2.5" stroke-linecap="round" stroke-linejoin="round" />
<path d="M1046.4 837.8 C1047.7 838.0 1051.4 839.5 1053.9 838.8 C1056.3 838.0 1060.0 834.1 1061.3 833.2" fill="none" stroke="#e9a285" stroke-width="2.5" stroke-linecap="round" stroke-linejoin="round" />
<path d="M878.0 864.7 C883.2 858.6 903.9 849.9 909.5 855.5 C915.1 861.0 915.1 889.5 911.4 898.1 C907.6 906.8 892.8 908.3 887.2 907.4 C881.7 906.5 879.5 899.7 878.0 892.6 C876.4 885.4 872.7 870.9 878.0 864.7Z" fill="#f3ad86" />
<path d="M879.8 871.2 C882.3 868.8 906.5 859.0 909.5 859.2 C912.5 859.4 912.4 870.7 909.9 873.1 C907.4 875.5 887.5 883.5 884.5 883.3 C881.5 883.1 877.3 873.6 879.8 871.2Z" fill="#f0674a" />
<path d="M879.8 886.7 C876.6 886.2 867.5 898.0 865.0 901.5 C862.5 905.1 852.4 922.7 850.1 929.3 C847.9 936.0 835.6 975.6 838.1 981.3 C840.6 987.0 875.4 993.9 879.8 998.0 C884.2 1002.0 888.8 1024.3 890.9 1029.5 C893.1 1034.7 900.4 1057.4 905.8 1060.1 C911.2 1062.8 951.7 1070.1 955.9 1062.0 C960.0 1053.8 959.1 974.1 955.9 962.7 C952.6 951.4 921.2 930.3 916.9 925.6 C912.6 921.0 907.0 910.3 903.9 907.1 C900.8 903.8 883.1 887.2 879.8 886.7Z" fill="#2a97a1" />
<path d="M868.7 947.9 C868.7 952.3 877.6 989.8 879.8 998.0 C882.0 1006.1 888.4 1023.3 890.9 1029.5 C893.5 1035.7 903.2 1057.5 905.8 1060.1 C908.4 1062.7 918.0 1061.5 916.9 1055.5 C915.8 1049.4 898.4 1010.0 894.7 999.8 C890.9 989.6 882.4 958.6 879.8 953.5 C877.2 948.3 868.7 943.4 868.7 947.9Z" fill="#1f7f8b" />
<path d="M879.8 883.0 C882.4 884.7 902.1 904.1 903.9 907.1 C905.8 910.1 900.4 913.2 898.4 912.7 C896.3 912.1 885.6 903.8 883.5 901.5 C881.5 899.3 878.3 892.3 878.0 890.4 C877.6 888.5 877.2 881.3 879.8 883.0Z" fill="#8fd0d0" />
<path d="M839.6 975.7 L879.8 992.4" fill="none" stroke="#1d6f7d" stroke-width="2" stroke-linecap="round" stroke-linejoin="round" />
<path d="M906.2 1059.2 C909.6 1057.6 956.3 1060.5 959.6 1062.9 C962.9 1065.3 959.3 1093.7 955.9 1095.3 C952.4 1096.9 911.0 1089.4 907.6 1087.0 C904.3 1084.6 902.7 1060.8 906.2 1059.2Z" fill="#2b3f6b" />
<polygon points="906.2,1059.2 959.6,1062.9 959.2,1067.0 906.5,1063.2" fill="#1c2b52" />
<path d="M777.8 960.9 C777.4 962.7 791.0 981.3 796.4 988.7 C801.8 996.1 818.3 1018.2 824.2 1023.9 C830.0 1029.7 842.1 1036.7 846.4 1037.8 C850.8 1039.0 858.1 1038.5 861.3 1034.1 C864.4 1029.8 871.2 1005.1 873.3 1000.7 C875.5 996.4 883.6 999.2 879.8 997.0 C876.0 994.9 845.2 983.0 840.9 982.2 C836.5 981.4 845.1 992.2 842.7 990.5 C840.3 988.9 825.5 970.3 820.5 968.3 C815.5 966.2 805.1 973.8 800.1 972.9 C795.1 972.1 778.3 959.0 777.8 960.9Z" fill="#fbc59f" />
<path d="M794.5 973.9 C797.3 974.0 806.9 975.6 811.2 974.8 C815.5 974.0 818.9 970.1 820.5 969.2" fill="none" stroke="#f3ad86" stroke-width="4" stroke-linecap="round" stroke-linejoin="round" />
<path d="M763.4 895.0 C762.1 891.1 765.6 889.4 767.6 888.5 C769.6 887.7 800.6 878.2 802.9 877.8 C805.1 877.4 810.2 877.3 812.1 881.1 C814.0 885.0 839.6 950.4 840.9 954.4 C842.1 958.4 839.2 960.0 837.2 960.9 C835.2 961.8 803.2 971.7 801.0 972.0 C798.8 972.3 795.5 971.2 793.6 967.4 C791.7 963.5 764.7 899.0 763.4 895.0Z" fill="#41588a" />
<path d="M807.9 880.8 L836.6 956.8" fill="none" stroke="#6fa8e8" stroke-width="3" stroke-linecap="round" stroke-linejoin="round" />
<path d="M812.1 881.1 C813.3 883.6 840.0 951.7 840.9 954.4 C841.7 957.0 837.4 960.8 837.2 960.9 C836.9 960.9 835.4 958.9 834.4 956.2 C833.4 953.6 807.3 884.0 806.6 881.5 C805.8 879.0 811.0 878.7 812.1 881.1Z" fill="#2e4270" />
<path d="M763.9 932.1 C765.3 928.4 774.1 922.4 777.8 920.1 C781.5 917.7 789.6 914.4 791.7 914.5 C793.8 914.6 792.2 919.9 793.6 921.0 C794.9 922.1 800.3 921.5 801.9 922.9 C803.5 924.2 805.1 928.4 805.6 931.2 C806.1 934.0 806.4 941.2 805.6 944.2 C804.9 947.2 801.8 950.4 800.1 953.5 C798.3 956.5 795.4 966.1 792.7 967.4 C789.9 968.6 783.0 965.3 779.7 962.7 C776.3 960.1 769.7 952.0 767.6 947.9 C765.5 943.8 762.5 935.8 763.9 932.1Z" fill="#fbc59f" />
<path d="M772.3 934.0 L798.2 925.6" fill="none" stroke="#f3ad86" stroke-width="2.5" stroke-linecap="round" stroke-linejoin="round" />
<path d="M776.0 943.3 L801.9 933.1" fill="none" stroke="#f3ad86" stroke-width="2.5" stroke-linecap="round" stroke-linejoin="round" />
<path d="M782.5 951.6 L802.9 943.3" fill="none" stroke="#f3ad86" stroke-width="2.5" stroke-linecap="round" stroke-linejoin="round" />
<ellipse cx="831.6" cy="922.9" rx="4.1" ry="5.9" fill="#fbc59f" transform="rotate(-20 831.6 922.9)" />
<ellipse cx="807.5" cy="830.4" rx="9.3" ry="13.9" fill="#fbc59f" transform="rotate(-10 807.5 830.4)" />
<path d="M805.6 823.9 C806.4 824.5 809.7 825.8 810.3 827.6 C810.8 829.5 809.2 833.8 809.0 835.1" fill="none" stroke="#ee6a4a" stroke-width="3" stroke-linecap="round" stroke-linejoin="round" />
<ellipse cx="941.0" cy="786.8" rx="10.2" ry="12.1" fill="#fbc59f" transform="rotate(15 941.0 786.8)" />
<ellipse cx="942.0" cy="787.8" rx="5.2" ry="7.0" fill="#f3ad86" transform="rotate(15 942.0 787.8)" />
<path d="M805.6 781.3 C805.8 773.1 805.6 762.6 813.1 757.2 C820.5 751.7 849.9 745.4 861.3 740.5 C872.7 735.5 890.2 720.6 898.4 720.1 C906.5 719.6 917.9 728.6 922.5 736.8 C927.1 744.9 930.9 770.4 932.7 781.3 C934.4 792.2 936.9 809.5 935.5 818.4 C934.0 827.3 926.5 841.9 921.6 848.0 C916.6 854.2 905.4 861.5 898.4 864.7 C891.3 868.0 876.6 872.3 868.7 872.5 C860.8 872.8 845.3 869.9 839.0 866.6 C832.7 863.3 825.0 854.5 821.4 848.0 C817.8 841.6 814.2 827.3 812.1 818.4 C810.0 809.5 805.5 789.4 805.6 781.3Z" fill="#fbc59f" />
<polygon points="808.2,759.0 811.2,748.6 849.0,741.2 890.6,719.7 908.4,727.9 917.3,747.2 923.2,773.9 849.0,782.8 809.0,782.8" fill="#fbc59f" />
<path d="M811.9 819.9 C811.9 821.3 806.9 800.7 804.5 796.1 C802.1 791.5 791.9 780.8 789.7 776.8 C787.5 772.9 784.1 762.5 783.7 759.0 C783.3 755.5 786.7 746.3 786.0 744.2 C785.2 742.1 776.2 740.2 776.6 739.1 C777.0 738.0 788.5 736.0 789.7 733.8 C790.8 731.6 787.2 722.1 787.4 719.0 C787.7 715.8 790.1 707.0 791.9 704.1 C793.7 701.2 803.6 691.7 804.5 691.8 C805.4 692.0 800.9 702.8 800.4 705.6 C799.8 708.4 798.5 718.4 799.5 718.2 C800.4 718.1 806.4 707.1 809.0 704.1 C811.6 701.2 820.2 693.1 823.8 690.8 C827.4 688.4 839.5 683.3 843.1 682.2 C846.7 681.0 857.2 679.2 857.6 679.8 C858.0 680.4 848.7 686.0 846.8 687.5 C844.9 689.0 838.6 694.1 840.1 694.2 C841.6 694.3 856.0 689.4 860.9 688.7 C865.8 688.0 881.0 687.1 886.1 687.8 C891.2 688.5 904.6 693.3 908.4 695.2 C912.2 697.1 919.6 703.6 921.7 705.6 C923.9 707.7 928.2 713.1 928.4 714.5 C928.6 715.9 923.7 717.9 923.5 719.0 C923.3 720.1 926.9 723.5 926.9 724.9 C926.9 726.3 923.4 729.3 923.2 732.3 C923.0 735.3 924.1 748.3 924.7 753.1 C925.3 757.9 930.1 777.8 929.1 777.1 C928.2 776.5 918.2 752.2 915.8 747.2 C913.4 742.1 909.6 732.0 906.9 729.3 C904.2 726.7 894.4 721.5 890.6 721.9 C886.8 722.4 875.7 731.4 871.3 733.8 C866.8 736.2 853.8 742.6 849.0 744.2 C844.3 745.8 830.7 747.9 826.8 748.6 C822.8 749.4 813.8 749.4 811.9 751.2 C810.0 752.9 809.8 761.6 809.0 765.0 C808.2 768.3 804.2 776.9 804.5 782.8 C804.8 788.6 811.9 818.4 811.9 819.9Z" fill="#7b3a22" />
<path d="M809.7 751.3 C811.4 751.7 822.8 749.3 826.8 748.6 C830.7 747.9 844.6 745.7 849.0 744.2 C853.5 742.7 867.1 736.0 871.3 733.8 C875.4 731.6 887.0 722.4 890.6 721.9 C894.1 721.5 904.4 726.8 906.9 729.3 C909.4 731.9 913.6 742.4 915.8 747.2 C918.0 751.9 928.2 776.5 929.1 777.1 C930.0 777.7 925.3 757.6 924.7 753.1 C924.1 748.6 923.0 735.1 923.2 732.3 C923.4 729.5 926.9 726.2 926.9 724.9 C926.9 723.6 925.4 720.0 923.5 719.0 C921.6 717.9 911.7 714.7 908.4 714.2 C905.1 713.8 894.1 713.4 890.6 714.5 C887.0 715.7 876.9 723.4 872.8 725.6 C868.6 727.8 853.8 734.8 849.0 736.5 C844.3 738.1 829.2 741.6 825.3 742.4 C821.4 743.2 811.3 744.0 809.7 744.9 C808.1 745.8 808.0 750.9 809.7 751.3Z" fill="#5d2919" />
<path d="M804.5 753.1 C806.1 751.0 810.0 751.9 810.4 753.1 C810.9 754.3 809.8 762.0 809.3 765.0 C808.7 767.9 804.5 777.3 804.8 782.8 C805.1 788.2 812.0 818.5 811.9 819.9 C811.9 821.2 806.2 800.7 804.5 796.1 C802.8 791.5 794.9 778.2 794.9 773.9 C794.9 769.6 803.0 755.2 804.5 753.1Z" fill="#5d2919" />
<path d="M837.2 701.9 C840.1 700.8 849.0 697.1 855.0 695.5 C860.9 693.9 869.8 692.8 872.8 692.3" fill="none" stroke="#9a4a2a" stroke-width="3" stroke-linecap="round" stroke-linejoin="round" />
<path d="M843.8 707.8 C845.7 707.0 851.1 704.3 855.0 702.9 C858.8 701.5 864.8 700.0 866.8 699.4" fill="none" stroke="#9a4a2a" stroke-width="2.5" stroke-linecap="round" stroke-linejoin="round" />
<path d="M806.0 725.2 C808.2 725.8 814.6 729.1 819.3 728.6 C824.0 728.1 831.7 723.3 834.2 722.2" fill="none" stroke="#5d2919" stroke-width="3" stroke-linecap="round" stroke-linejoin="round" />
<ellipse cx="840.9" cy="798.0" rx="11.5" ry="11.5" fill="#fff" />
<ellipse cx="843.3" cy="799.1" rx="7.8" ry="7.8" fill="#6e2f1c" />
<ellipse cx="839.9" cy="796.1" rx="2.0" ry="2.0" fill="#fff" />
<ellipse cx="896.5" cy="781.3" rx="11.5" ry="11.5" fill="#fff" />
<ellipse cx="897.8" cy="782.4" rx="7.8" ry="7.8" fill="#6e2f1c" />
<ellipse cx="895.0" cy="779.4" rx="2.0" ry="2.0" fill="#fff" />
<path d="M820.1 779.1 C821.4 776.6 824.6 767.4 827.9 764.6 C831.2 761.8 837.9 762.6 839.9 762.2" fill="none" stroke="#5d2919" stroke-width="6.5" stroke-linecap="round" stroke-linejoin="round" />
<path d="M878.9 750.7 C880.9 749.6 886.6 743.8 890.9 744.2 C895.3 744.6 902.5 751.4 904.9 752.9" fill="none" stroke="#5d2919" stroke-width="6.5" stroke-linecap="round" stroke-linejoin="round" />
<path d="M874.3 796.1 C874.9 797.8 878.9 804.2 878.0 806.3 C877.0 808.4 870.2 808.3 868.7 808.7" fill="none" stroke="#e9a285" stroke-width="2.5" stroke-linecap="round" stroke-linejoin="round" />
<ellipse cx="839.0" cy="816.5" rx="5.9" ry="4.1" fill="#e9a285" />
<ellipse cx="916.0" cy="797.0" rx="6.7" ry="4.1" fill="#e9a285" />
<path d="M853.9 827.6 C855.8 825.4 874.0 823.1 879.8 821.1 C885.7 819.2 901.0 809.5 903.9 810.9 C906.9 812.4 905.9 828.9 904.9 833.2 C903.8 837.5 897.8 846.1 894.7 848.0 C891.5 850.0 881.6 851.1 878.0 850.3 C874.3 849.4 865.9 843.3 863.1 840.6 C860.3 838.0 851.9 829.9 853.9 827.6Z" fill="#a5233c" />
<path d="M856.6 828.0 C858.4 826.8 875.2 823.6 879.8 822.1 C884.5 820.6 900.9 812.7 903.0 812.8 C905.1 812.9 903.1 821.3 901.1 823.0 C899.2 824.7 887.4 828.4 883.5 829.5 C879.6 830.6 864.9 834.3 862.2 834.1 C859.5 834.0 854.9 829.2 856.6 828.0Z" fill="#fff" />
<path d="M868.7 842.5 C869.4 840.4 879.2 835.4 883.5 834.1 C887.9 832.9 899.7 831.5 901.1 833.2 C902.6 834.9 897.7 844.9 894.7 847.1 C891.6 849.3 881.4 850.1 878.0 849.5 C874.5 848.9 868.0 844.5 868.7 842.5Z" fill="#f08a98" />
<path d="M879.8 854.5 C881.4 854.7 886.3 855.9 889.1 855.5 C891.9 855.0 895.3 852.4 896.5 851.8" fill="none" stroke="#e9a285" stroke-width="2.5" stroke-linecap="round" stroke-linejoin="round" />
<path d="M951.2 822.3 C958.1 820.2 976.9 820.4 983.9 822.3 C990.8 824.2 1005.5 832.5 1010.6 838.6 C1015.6 844.6 1023.4 867.6 1026.9 874.2 C1030.3 880.8 1037.7 888.0 1040.2 895.0 C1042.7 901.9 1049.8 925.7 1048.4 933.5 C1047.0 941.4 1034.9 959.1 1028.4 962.5 C1021.9 965.8 1000.4 962.5 992.8 962.5 C985.1 962.4 969.3 961.3 963.1 961.7 C956.9 962.2 943.3 964.7 939.3 966.2 C935.4 967.6 932.4 975.5 929.0 974.3 C925.5 973.1 912.6 962.3 909.7 955.8 C906.7 949.3 903.7 929.1 903.7 918.7 C903.7 908.3 907.3 875.9 909.7 866.8 C912.1 857.6 919.7 845.3 924.5 840.1 C929.4 834.9 944.3 824.3 951.2 822.3Z" fill="#8f4b2c" />
<path d="M1022.4 883.1 C1025.5 878.6 1037.2 889.1 1040.2 895.0 C1043.3 900.8 1049.8 925.7 1048.4 933.5 C1047.0 941.4 1034.9 959.1 1028.4 962.5 C1021.9 965.8 994.5 965.8 992.8 962.5 C991.0 959.1 1010.1 942.8 1013.5 933.5 C1017.0 924.3 1019.3 887.6 1022.4 883.1Z" fill="#6b2c1d" />
<ellipse cx="911.9" cy="906.8" rx="8.2" ry="12.6" fill="#fbc59f" transform="rotate(-10 911.9 906.8)" />
<ellipse cx="1030.6" cy="906.8" rx="8.2" ry="14.8" fill="#f5a58e" transform="rotate(10 1030.6 906.8)" />
<path d="M969.0 952.8 C971.2 951.0 988.3 950.9 990.5 952.8 C992.8 954.7 992.2 969.6 991.3 972.1 C990.3 974.6 983.1 978.2 980.9 978.0 C978.7 977.9 970.2 973.1 969.0 970.6 C967.8 968.1 966.9 954.6 969.0 952.8Z" fill="#f3ad86" />
<path d="M963.1 964.7 C961.1 965.3 947.3 975.1 945.3 978.0 C943.3 981.0 931.8 998.4 939.3 1000.3 C946.9 1002.2 1028.1 1001.9 1035.8 1000.3 C1043.5 998.7 1033.2 983.9 1031.3 981.0 C1029.5 978.2 1016.7 967.7 1013.5 966.2 C1010.3 964.6 994.7 961.8 992.8 962.5 C990.8 963.1 990.9 972.3 989.8 973.6 C988.7 974.9 981.1 978.3 979.4 978.0 C977.7 977.8 970.4 971.7 969.0 970.6 C967.7 969.5 965.1 964.1 963.1 964.7Z" fill="#fbe4bf" />
<path d="M919.3 895.0 C919.6 887.4 920.9 871.4 924.5 865.3 C928.2 859.1 938.9 852.7 946.8 849.0 C954.7 845.2 975.0 835.7 983.9 837.1 C992.8 838.5 1008.3 852.0 1013.5 859.3 C1018.7 866.7 1021.9 883.7 1022.7 892.0 C1023.5 900.3 1021.9 914.5 1019.5 921.7 C1017.1 928.8 1009.6 940.7 1004.6 945.4 C999.7 950.1 988.3 955.7 982.4 957.3 C976.4 958.9 966.3 958.9 960.1 957.3 C954.0 955.7 941.4 950.1 936.4 945.4 C931.3 940.7 924.6 928.4 922.3 921.7 C920.0 914.9 919.0 902.5 919.3 895.0Z" fill="#fbc59f" />
<path d="M909.7 892.0 C908.9 888.9 911.9 868.4 914.1 862.3 C916.4 856.3 924.6 844.6 929.0 840.1 C933.3 835.6 944.8 825.8 951.2 823.7 C957.6 821.7 978.3 821.6 983.9 822.3 C989.4 822.9 998.0 828.2 998.7 829.7 C999.4 831.1 994.6 832.8 989.8 834.9 C984.9 836.9 964.1 844.1 957.2 847.5 C950.2 850.9 934.7 859.0 930.4 863.8 C926.2 868.6 923.2 885.7 920.8 889.0 C918.4 892.3 910.5 895.1 909.7 892.0Z" fill="#9a5634" />
<path d="M992.8 833.4 C991.0 829.9 996.3 828.5 998.7 829.7 C1001.1 830.8 1010.3 837.8 1013.5 843.0 C1016.7 848.2 1025.0 868.5 1026.1 874.2 C1027.3 879.9 1024.6 893.7 1023.2 892.0 C1021.7 890.3 1017.1 866.2 1013.5 859.3 C1010.0 852.5 994.5 836.8 992.8 833.4Z" fill="#8f4b2c" />
<ellipse cx="946.8" cy="890.5" rx="10.4" ry="10.1" fill="#fff" />
<ellipse cx="948.0" cy="891.2" rx="6.7" ry="6.8" fill="#5a2418" />
<ellipse cx="946.0" cy="888.7" rx="1.8" ry="1.8" fill="#fff" />
<ellipse cx="995.0" cy="889.0" rx="9.2" ry="9.5" fill="#fff" />
<ellipse cx="994.2" cy="889.9" rx="6.2" ry="6.5" fill="#5a2418" />
<ellipse cx="992.3" cy="887.5" rx="1.6" ry="1.6" fill="#fff" />
<path d="M937.1 869.0 C938.0 868.1 940.3 864.7 942.3 863.8 C944.3 862.9 947.9 863.6 949.0 863.5" fill="none" stroke="#6b2c1d" stroke-width="5" stroke-linecap="round" stroke-linejoin="round" />
<path d="M991.3 862.3 C992.3 862.1 995.4 860.2 997.2 860.8 C999.1 861.4 1001.5 865.2 1002.4 866.0" fill="none" stroke="#6b2c1d" stroke-width="5" stroke-linecap="round" stroke-linejoin="round" />
<ellipse cx="937.1" cy="910.5" rx="9.2" ry="6.7" fill="#eaa387" />
<ellipse cx="1007.9" cy="909.3" rx="9.2" ry="6.7" fill="#eaa387" />
<path d="M967.5 902.4 C968.3 902.0 970.5 900.1 972.0 900.1 C973.5 900.1 975.7 902.0 976.4 902.4" fill="none" stroke="#e78f78" stroke-width="3" stroke-linecap="round" stroke-linejoin="round" />
<path d="M951.2 915.7 C952.1 914.2 966.6 918.7 970.5 918.7 C974.4 918.7 988.4 914.3 989.8 915.7 C991.2 917.1 986.4 930.1 984.6 932.8 C982.8 935.5 974.3 942.7 972.0 942.7 C969.7 942.8 963.7 936.2 961.6 933.5 C959.5 930.8 950.3 917.2 951.2 915.7Z" fill="#b3263f" />
<path d="M953.4 916.5 C954.8 916.1 967.1 919.4 970.5 919.4 C973.9 919.5 986.2 916.4 987.6 916.8 C988.9 917.1 985.6 922.4 983.9 923.1 C982.2 923.9 973.2 924.6 970.5 924.6 C967.8 924.6 958.9 924.0 957.2 923.1 C955.4 922.3 952.1 916.8 953.4 916.5Z" fill="#fff" />
<path d="M963.1 933.5 C962.9 931.8 969.4 929.2 972.0 929.1 C974.6 929.0 982.2 931.1 982.4 932.8 C982.6 934.5 976.0 941.6 973.5 941.7 C970.9 941.8 963.3 935.2 963.1 933.5Z" fill="#f28b90" />
<path d="M1040.9 1025.8 C1041.9 1025.8 1046.4 1031.7 1047.4 1036.2 C1048.3 1040.7 1055.5 1090.0 1055.1 1093.8 C1054.8 1097.7 1043.7 1097.7 1042.2 1093.8 C1040.6 1090.0 1031.9 1040.7 1031.8 1036.2 C1031.7 1031.7 1039.8 1025.8 1040.9 1025.8Z" fill="#e9a07c" />
<path d="M939.6 1025.8 C937.0 1023.2 937.1 1004.8 938.3 999.8 C939.5 994.9 948.4 980.0 951.3 976.5 C954.1 973.0 962.4 966.3 966.9 964.8 C971.3 963.2 990.2 960.4 995.4 960.9 C1000.6 961.4 1014.6 967.4 1018.8 970.0 C1022.9 972.6 1034.8 983.3 1037.0 986.9 C1039.2 990.4 1041.4 1001.9 1040.9 1005.0 C1040.3 1008.1 1035.3 1016.7 1031.8 1018.0 C1028.3 1019.3 1012.6 1017.2 1005.8 1018.0 C999.1 1018.8 970.9 1025.0 964.3 1025.8 C957.6 1026.6 942.2 1028.4 939.6 1025.8Z" fill="#fbe4bf" />
<path d="M968.2 953.1 C970.1 951.4 990.8 950.9 992.8 953.1 C994.8 955.3 993.4 976.1 992.3 979.1 C991.2 982.0 981.8 988.6 979.8 988.2 C977.9 987.7 969.9 976.8 968.9 973.9 C968.0 970.9 966.2 954.8 968.2 953.1Z" fill="#f3ad86" />
<path d="M960.4 970.0 C961.2 968.9 966.9 964.9 968.2 966.1 C969.4 967.3 978.2 988.1 979.8 988.2 C981.5 988.2 991.3 967.8 992.8 966.6 C994.3 965.4 1001.0 969.1 1001.9 970.0 C1002.8 970.8 1006.9 977.0 1005.8 979.1 C1004.7 981.1 987.3 999.4 985.0 1001.1 C982.8 1002.9 974.0 1006.3 972.0 1005.0 C970.1 1003.7 955.9 984.0 955.2 981.7 C954.4 979.3 959.5 971.0 960.4 970.0Z" fill="#eed9b5" />
<path d="M950.0 980.4 C949.7 978.0 958.2 975.5 959.1 976.5 C959.9 977.5 970.8 1004.4 972.0 1005.0 C973.3 1005.7 988.7 992.3 990.2 992.0 C991.8 991.8 1010.4 1000.8 1011.0 999.8 C1011.6 998.8 1005.5 968.7 1005.8 967.4 C1006.1 966.1 1016.8 966.1 1017.5 967.4 C1018.2 968.7 1023.4 997.5 1024.0 999.8 C1024.6 1002.2 1031.0 1023.1 1031.8 1025.8 C1032.5 1028.5 1042.6 1064.6 1043.5 1067.4 C1044.3 1070.1 1057.4 1092.7 1053.8 1093.8 C1050.3 1095.0 957.6 1097.5 953.9 1096.4 C950.2 1095.4 961.2 1069.8 961.7 1067.4 C962.1 1064.9 966.0 1039.7 965.6 1036.2 C965.1 1032.7 950.2 982.7 950.0 980.4Z" fill="#f05a43" />
<path d="M1005.8 967.4 C1005.9 966.1 1016.9 966.3 1017.5 967.4 C1018.1 968.5 1023.5 998.6 1023.5 999.8 C1023.4 1001.1 1015.7 1006.1 1015.2 1005.0 C1014.6 1003.9 1005.7 968.6 1005.8 967.4Z" fill="#d43a30" />
<path d="M1031.8 1025.8 C1032.5 1026.6 1042.4 1063.9 1043.5 1067.4 C1044.6 1070.8 1054.4 1092.5 1053.8 1093.8 C1053.3 1095.2 1033.0 1097.0 1031.8 1094.9 C1030.5 1092.8 1029.2 1055.2 1029.2 1051.8 C1029.2 1048.3 1031.1 1025.0 1031.8 1025.8Z" fill="#d43a30" />
<path d="M940.9 1027.1 C942.3 1024.9 960.8 1019.4 963.0 1020.6 C965.1 1021.8 966.6 1038.9 966.9 1041.4 C967.1 1043.9 960.1 1052.7 965.6 1050.5 C971.0 1048.2 1026.5 1018.8 1031.8 1014.1 C1037.1 1009.5 1028.7 996.4 1029.2 994.6 C1029.6 992.9 1036.0 992.9 1037.0 993.3 C1037.9 993.8 1039.7 999.0 1040.9 999.8 C1042.0 1000.7 1050.4 1002.2 1051.2 1003.7 C1052.0 1005.2 1051.7 1016.0 1050.5 1018.0 C1049.3 1020.1 1043.9 1024.1 1037.0 1028.4 C1030.0 1032.7 973.8 1066.5 966.9 1069.4 C959.9 1072.4 955.6 1065.4 953.9 1063.5 C952.1 1061.6 947.2 1049.6 946.1 1046.6 C945.0 1043.5 939.5 1029.3 940.9 1027.1Z" fill="#fbc59f" />
<path d="M939.6 1023.2 L963.0 1017.2" fill="none" stroke="#e3cfae" stroke-width="2.5" stroke-linecap="round" stroke-linejoin="round" />
</g>
<g id="bath">
<polygon points="1491.8,731.0 1268.5,861.0 1286.2,873.5 1491.8,753.5" fill="#39bff0" />
<polygon points="1491.8,731.0 1715.5,861.0 1698.0,873.5 1491.8,753.5" fill="#39bff0" />
<polygon points="1268.5,861.0 1268.5,1118.5 1286.2,1107.0 1286.2,873.5" fill="#2aa2da" />
<polygon points="1715.5,861.0 1715.5,1118.5 1698.0,1107.0 1698.0,873.5" fill="#1f86b9" />
<polygon points="1268.5,1118.5 1492.5,1248.0 1492.7,1227.5 1286.2,1107.0" fill="#2aa2da" />
<polygon points="1715.5,1118.5 1492.5,1248.0 1492.7,1227.5 1698.0,1107.0" fill="#1f86b9" />
<polygon points="1491.8,753.5 1286.2,873.5 1286.2,1107.0 1492.7,986.5" fill="#bfe6f8" />
<polygon points="1491.8,753.5 1698.0,873.5 1698.0,1107.0 1492.7,986.5" fill="#9ad8f4" />
<polygon points="1286.2,1107.0 1492.7,1227.5 1698.0,1107.0 1492.7,986.5" fill="#fff" />
<polygon points="1327.4,1082.9 1368.6,1107.0 1409.7,1082.9 1368.6,1058.8" fill="#39bff0" />
<polygon points="1409.7,1034.7 1450.9,1058.8 1492.1,1034.7 1450.9,1010.6" fill="#39bff0" />
<polygon points="1327.4,1131.1 1368.6,1155.2 1409.7,1131.1 1368.6,1107.0" fill="#39bff0" />
<polygon points="1409.7,1082.9 1450.9,1107.0 1492.1,1082.9 1450.9,1058.8" fill="#39bff0" />
<polygon points="1492.1,1034.7 1533.3,1058.8 1574.5,1034.7 1533.3,1010.6" fill="#39bff0" />
<polygon points="1409.7,1131.1 1450.9,1155.2 1492.1,1131.1 1450.9,1107.0" fill="#39bff0" />
<polygon points="1492.1,1082.9 1533.3,1107.0 1574.5,1082.9 1533.3,1058.8" fill="#39bff0" />
<polygon points="1409.7,1179.3 1450.9,1203.4 1492.1,1179.3 1450.9,1155.2" fill="#39bff0" />
<polygon points="1492.1,1131.1 1533.3,1155.2 1574.5,1131.1 1533.3,1107.0" fill="#39bff0" />
<polygon points="1574.5,1082.9 1615.6,1107.0 1656.8,1082.9 1615.6,1058.8" fill="#39bff0" />
<polygon points="1492.1,1179.3 1533.3,1203.4 1574.5,1179.3 1533.3,1155.2" fill="#39bff0" />
<polygon points="1574.5,1131.1 1615.6,1155.2 1656.8,1131.1 1615.6,1107.0" fill="#39bff0" />
<polygon points="1394.7,1026.4 1402.0,1020.8 1417.0,1009.7 1424.0,1036.0 1436.0,1062.0 1428.0,1076.4 1409.5,1067.2 1409.5,1052.3 1394.7,1046.8" fill="#6391b8" />
<path d="M1413 1106 L1497 1057 L1566 1099 Q1569 1102 1565 1105 L1490 1148 Q1485 1150 1480 1147 Z" fill="#6995bc"/>
<polygon points="1352.0,884.0 1426.2,849.8 1439.5,858.2 1371.5,896.2" fill="#f0b676" />
<polygon points="1352.0,884.0 1371.5,896.2 1371.5,899.5 1352.0,887.2" fill="#c48a4a" />
<polygon points="1371.5,896.2 1439.5,858.2 1439.5,861.4 1371.5,899.5" fill="#d9a062" />
<polygon points="1369.0,831.0 1381.0,827.0 1389.0,872.0 1365.0,884.0 1361.0,880.0" fill="#f4f6fa" />
<polygon points="1368.5,828.0 1374.0,826.5 1381.0,829.0 1381.0,838.0 1375.0,841.0 1368.5,838.0" fill="#b9bcc4" />
<rect x="1387.2" y="842" width="13" height="31" rx="4" fill="#2b8fd6"/><rect x="1389" y="838.5" width="9.5" height="7" rx="2" fill="#e8f2fb"/>
<rect x="1398.4" y="829" width="16.5" height="36.5" rx="5" fill="#d5303a"/><rect x="1402" y="824.5" width="9.5" height="8" rx="2" fill="#f3f5fa"/>
<rect x="1416" y="836" width="8" height="21" rx="2.5" fill="#e6f1fa"/><rect x="1418.5" y="829.5" width="3.2" height="7" fill="#9fb3c8"/>
<path d="M1366 922 L1370 990 L1392 1001 L1444 975 L1446 906 Z" fill="#fdfeff"/>
<path d="M1366 922 L1370 990 L1392 1001 L1391 938 Z" fill="#dcebfa"/>
<path d="M1364 916 Q1363 912 1368 909.5 L1418 885 Q1424 882.5 1429 885.5 L1445 895 Q1448.5 898 1448 903 L1447 911 Q1446.5 914 1443 916 L1399 936.5 Q1393 939 1388 936 L1367 925 Q1364 923 1364 920 Z" fill="#ffffff"/>
<path d="M1364.5 919 L1367 925 L1388 936 Q1393 939 1399 936.5 L1443 916 Q1446.5 914 1447 911 L1447 908 L1398 931 Q1393 933 1388 930.5 Z" fill="#e3effb"/>
<ellipse cx="1406" cy="905" rx="7.6" ry="4.6" fill="#dfeaf6" stroke="#4d6c93" stroke-width="1.2"/>
<polygon points="1402.0,995.0 1420.0,986.0 1436.0,1012.0 1440.0,1040.0 1420.0,1030.0" fill="#e9f2fc" />
<path d="M1410 1010 Q1414 1062 1450 1070 L1478 1070 Q1516 1058 1519 1014 Z" fill="#dcebfa"/>
<path d="M1431 1058 Q1430 1080 1427 1090 Q1437 1099 1456 1097 Q1474 1096 1482 1088 Q1478 1075 1481 1060 Z" fill="#ffffff"/>
<path d="M1411 990 Q1409 984 1415 981 L1432 973.5 Q1437 971.5 1441 974.5 L1447 979 Q1462 975 1480 978.5 Q1519 987 1519.5 1012 Q1519 1040 1478 1043.5 Q1438 1045 1424 1018 Q1420 1009 1420.5 1003 Z" fill="#b78350"/>
<path d="M1413 993 L1421 1004 Q1421 1012 1425 1020 Q1439 1047 1478 1046 Q1519 1043 1519.5 1014 L1519.5 1011 Q1519 1040 1478 1043.5 Q1438 1045 1424 1018 Q1420 1009 1420.5 1003 L1411 990 Z" fill="#8e6238"/>
<ellipse cx="1468.5" cy="1008.5" rx="37" ry="20.5" fill="#ffffff" transform="rotate(6 1468.5 1008.5)"/>
<path d="M1433 1003 Q1440 991 1466 988.5 Q1494 988 1504 1003 Q1490 994 1467 995 Q1443 996 1433 1003Z" fill="#d3e5f8"/>
<path d="M1449 1024 Q1467 1017 1490 1024.5 Q1470 1032 1449 1024Z" fill="#c9dff6"/>
<circle cx="1423.5" cy="996.5" r="2.3" fill="#1b2140"/><circle cx="1439.5" cy="986.5" r="2.3" fill="#1b2140"/>
<polygon points="1335.0,1034.0 1359.5,1047.0 1359.5,1100.5 1340.5,1089.5" fill="#7a4f2b" />
<polygon points="1359.5,1047.0 1394.0,1027.0 1389.0,1083.0 1359.5,1100.5" fill="#9c6d3d" />
<polygon points="1334.4,1029.1 1370.5,1009.7 1394.7,1022.7 1359.4,1043.0" fill="#8a5c32" />
<polygon points="1334.4,1029.1 1359.4,1043.0 1359.4,1049.0 1334.4,1035.0" fill="#6d4424" />
<polygon points="1359.4,1043.0 1394.7,1022.7 1394.7,1028.5 1359.4,1049.0" fill="#7d5230" />
<polygon points="1343.0,1029.5 1370.0,1015.5 1385.0,1023.0 1358.0,1037.5" fill="#7a4f2b" />
<polygon points="1361.0,1052.0 1371.0,1046.0 1370.0,1062.0 1366.0,1058.0" fill="#ffffff" />
<polygon points="1510.6,798.8 1573.7,835.0 1573.7,848.0 1510.6,812.7" fill="#5f86ad" />
<polygon points="1513.8,816.4 1547.7,836.0 1547.7,905.5 1513.8,886.0" fill="#ffffff" />
<polygon points="1547.7,836.0 1553.0,839.0 1553.0,900.0 1547.7,905.5" fill="#dbe9f8" />
<polygon points="1513.8,866.5 1547.7,886.0 1547.7,890.5 1513.8,871.0" fill="#f3b56a" />
<polygon points="1513.8,875.0 1547.7,894.5 1547.7,899.0 1513.8,879.5" fill="#f3b56a" />
<circle cx="1514.5" cy="807.5" r="3" fill="#fff" stroke="#4d6c93" stroke-width="1.2"/><circle cx="1568.5" cy="838" r="3" fill="#fff" stroke="#4d6c93" stroke-width="1.2"/>
<polygon points="1519.9,913.8 1557.0,935.0 1557.0,948.5 1519.9,927.0" fill="#5f86ad" />
<path d="M1513 936 Q1514 922.5 1526 922 L1533 924 Q1541 930 1539 945 L1530 951 L1529.5 972 L1511.5 962 Z" fill="#ffffff"/>
<ellipse cx="1538" cy="942" rx="6.5" ry="9.5" fill="#eef1f6" transform="rotate(-12 1538 942)"/><circle cx="1539" cy="941" r="2" fill="#222"/>
<path d="M1567.2 897 Q1566 887 1578 880 L1592 873.5 Q1597 871.5 1602 874 L1674 915 Q1678 918 1677 923 Q1672 938 1650 944.5 Q1627 950 1608 943 Q1575 930 1567.2 905 Z" fill="#ffffff"/>
<path d="M1573 897 Q1574 888 1590 882 L1658 921 Q1650 932 1628 934 Q1588 925 1573 897Z" fill="#cfe3f7"/>
<path d="M1573 897 Q1574 888 1590 882 Q1592 905 1628 934 Q1588 925 1573 897Z" fill="#deecfb"/>
<path d="M1585 926 Q1600 948 1632 950 Q1652 949 1664 939 Q1640 950 1614 945 Q1597 940 1585 926Z" fill="#6a93bd"/>
<path d="M1609 897 Q1612 890 1622 892 L1634 897 L1646 892 L1648 897 L1636 903 L1622 897 Q1614 894 1611 898Z" fill="#5b7fa6"/>
<rect x="1617.5" y="878" width="12" height="5" rx="2" fill="#5b7fa6" transform="rotate(8 1623 880)"/><rect x="1636" y="889" width="12" height="5.5" rx="2" fill="#5b7fa6" transform="rotate(-18 1642 892)"/>
<rect x="1611.5" y="946" width="10.5" height="25" fill="#e6f1fb"/>
<rect x="1607" y="966" width="19.5" height="36" rx="5" fill="#ffffff"/>
<rect x="1607" y="966" width="19.5" height="4.5" fill="#6a93bd"/><rect x="1607" y="987" width="19.5" height="4.5" fill="#6a93bd"/>
<path d="M1626 975 Q1632 965 1638 968 L1640 981 Q1633 979 1628 984Z" fill="#eef5fc"/><ellipse cx="1638.5" cy="972.5" rx="4" ry="7" fill="#ffffff"/>
<rect x="1640" y="1046" width="15" height="42.5" rx="3" fill="#4c7ec4"/><rect x="1640" y="1064" width="15" height="10" fill="#eef3fb"/><rect x="1641.5" y="1040" width="12" height="9" rx="2" fill="#b9c9d8"/><path d="M1640 1040 L1650 1033.5 L1652.5 1036 L1646 1042Z" fill="#c9d6e2"/>
<rect x="1653.4" y="1056" width="20.4" height="42.5" rx="6" fill="#e6432d"/><rect x="1657" y="1049" width="13.5" height="10" rx="3.5" fill="#f4f6f9"/><rect x="1655.5" y="1071" width="17" height="11" rx="2" fill="#ffffff"/><rect x="1658.5" y="1074.5" width="11" height="3.6" fill="#e6432d"/>
</g>
<rect x="816.5" y="1157.1" width="52.3" height="51.7" fill="#0071bc"/>
<rect x="816.5" y="1229.7" width="52.3" height="52.0" fill="#53c2c0"/>
<rect x="816.5" y="1302.3" width="52.3" height="52.0" fill="#fbb055"/>
<line x1="48" y1="1835.4" x2="1830" y2="1835.4" stroke="#93d2f4" stroke-width="1.8" stroke-dasharray="1.8 2.4 9.8 1.8 1.8 7.5" stroke-dashoffset="14.5"/>
<line x1="48" y1="2033.7" x2="1830" y2="2033.7" stroke="#93d2f4" stroke-width="1.8" stroke-dasharray="1.8 2.4 9.8 1.8 1.8 7.5" stroke-dashoffset="14.5"/>
<line x1="48" y1="2232.1" x2="1830" y2="2232.1" stroke="#93d2f4" stroke-width="1.8" stroke-dasharray="1.8 2.4 9.8 1.8 1.8 7.5" stroke-dashoffset="14.5"/>
<line x1="48" y1="2430.4" x2="1830" y2="2430.4" stroke="#93d2f4" stroke-width="1.8" stroke-dasharray="1.8 2.4 9.8 1.8 1.8 7.5" stroke-dashoffset="14.5"/>
<line x1="48" y1="2628.8" x2="1830" y2="2628.8" stroke="#93d2f4" stroke-width="1.8" stroke-dasharray="1.8 2.4 9.8 1.8 1.8 7.5" stroke-dashoffset="14.5"/>
<line x1="48" y1="2827.1" x2="1830" y2="2827.1" stroke="#93d2f4" stroke-width="1.8" stroke-dasharray="1.8 2.4 9.8 1.8 1.8 7.5" stroke-dashoffset="14.5"/>
<line x1="48" y1="3025.4" x2="1830" y2="3025.4" stroke="#93d2f4" stroke-width="1.8" stroke-dasharray="1.8 2.4 9.8 1.8 1.8 7.5" stroke-dashoffset="14.5"/>
<rect x="151.5" y="1660.1" width="494.5" height="47.8" fill="#0071bc"/>
<rect x="1290.5" y="1660.1" width="492.3" height="47.8" fill="#0071bc"/>
<rect x="151.5" y="1713.1" width="490.0" height="47.8" fill="#53c2c0"/>
<rect x="1290.5" y="1713.1" width="482.5" height="47.8" fill="#53c2c0"/>
<rect x="151.5" y="1765.9" width="486.5" height="47.8" fill="#fbb055"/>
<rect x="1290.5" y="1765.9" width="475.9" height="47.8" fill="#fbb055"/>
<rect x="151.5" y="1858.4" width="495.0" height="47.8" fill="#0071bc"/>
<rect x="1290.5" y="1858.4" width="491.5" height="47.8" fill="#0071bc"/>
<rect x="151.5" y="1911.4" width="489.2" height="47.8" fill="#53c2c0"/>
<rect x="1290.5" y="1911.4" width="478.4" height="47.8" fill="#53c2c0"/>
<rect x="151.5" y="1964.2" width="485.2" height="47.8" fill="#fbb055"/>
<rect x="1290.5" y="1964.2" width="470.3" height="47.8" fill="#fbb055"/>
<rect x="151.5" y="2056.8" width="494.5" height="47.8" fill="#0071bc"/>
<rect x="1290.5" y="2056.8" width="491.2" height="47.8" fill="#0071bc"/>
<rect x="151.5" y="2109.8" width="488.0" height="47.8" fill="#53c2c0"/>
<rect x="1290.5" y="2109.8" width="475.9" height="47.8" fill="#53c2c0"/>
<rect x="151.5" y="2162.6" width="483.3" height="47.8" fill="#fbb055"/>
<rect x="1290.5" y="2162.6" width="466.6" height="47.8" fill="#fbb055"/>
<rect x="151.5" y="2255.1" width="494.5" height="47.8" fill="#0071bc"/>
<rect x="1290.5" y="2255.1" width="490.5" height="47.8" fill="#0071bc"/>
<rect x="151.5" y="2308.1" width="486.7" height="47.8" fill="#53c2c0"/>
<rect x="1290.5" y="2308.1" width="472.8" height="47.8" fill="#53c2c0"/>
<rect x="151.5" y="2360.9" width="481.5" height="47.8" fill="#fbb055"/>
<rect x="1290.5" y="2360.9" width="462.3" height="47.8" fill="#fbb055"/>
<rect x="151.5" y="2453.5" width="493.9" height="47.8" fill="#0071bc"/>
<rect x="1290.5" y="2453.5" width="489.0" height="47.8" fill="#0071bc"/>
<rect x="151.5" y="2506.5" width="483.3" height="47.8" fill="#53c2c0"/>
<rect x="1290.5" y="2506.5" width="465.4" height="47.8" fill="#53c2c0"/>
<rect x="151.5" y="2559.3" width="477.4" height="47.8" fill="#fbb055"/>
<rect x="1290.5" y="2559.3" width="450.5" height="47.8" fill="#fbb055"/>
<rect x="151.5" y="2651.8" width="493.9" height="47.8" fill="#0071bc"/>
<rect x="1290.5" y="2651.8" width="484.3" height="47.8" fill="#0071bc"/>
<rect x="151.5" y="2704.8" width="474.9" height="47.8" fill="#53c2c0"/>
<rect x="1290.5" y="2704.8" width="446.4" height="47.8" fill="#53c2c0"/>
<rect x="151.5" y="2757.6" width="465.0" height="47.8" fill="#fbb055"/>
<rect x="1290.5" y="2757.6" width="427.5" height="47.8" fill="#fbb055"/>
<rect x="151.5" y="2850.1" width="491.4" height="47.8" fill="#0071bc"/>
<rect x="1290.5" y="2850.1" width="475.9" height="47.8" fill="#0071bc"/>
<rect x="151.5" y="2903.1" width="463.5" height="47.8" fill="#53c2c0"/>
<rect x="1290.5" y="2903.1" width="411.9" height="47.8" fill="#53c2c0"/>
<rect x="151.5" y="2955.9" width="450.7" height="47.8" fill="#fbb055"/>
<rect x="1290.5" y="2955.9" width="380.5" height="47.8" fill="#fbb055"/>
<rect x="151.5" y="3048.5" width="488.0" height="47.8" fill="#0071bc"/>
<rect x="1290.5" y="3048.5" width="467.9" height="47.8" fill="#0071bc"/>
<rect x="151.5" y="3101.5" width="461.6" height="47.8" fill="#53c2c0"/>
<rect x="1290.5" y="3101.5" width="396.1" height="47.8" fill="#53c2c0"/>
<rect x="151.5" y="3154.3" width="449.8" height="47.8" fill="#fbb055"/>
<rect x="1290.5" y="3154.3" width="363.8" height="47.8" fill="#fbb055"/>
<rect x="150.2" y="1637.8" width="2" height="1580.8" fill="#000"/>
<rect x="646.9" y="1637.8" width="2" height="1580.8" fill="#000"/>
<rect x="1289.2" y="1637.8" width="2" height="1580.8" fill="#000"/>
<rect x="1785.8" y="1637.8" width="2" height="1580.8" fill="#000"/>
<rect x="894.5" y="1637" width="7.5" height="1581.5" fill="#0071bc"/>
<rect x="1063.3" y="1637" width="7.5" height="1581.5" fill="#0071bc"/>
<text transform="translate(741.44 167.50) scale(0.9923 1)" font-size="82.3" fill="#ed0f6e" font-weight="bold" stroke="#ed0f6e" stroke-width="1.6" stroke-linejoin="round">NĂM 2024</text>
<text transform="translate(43.20 292.50) scale(0.9131 1)" font-size="82.3" fill="#0071bc" font-weight="bold" stroke="#0071bc" stroke-width="1.6" stroke-linejoin="round">TỶ LỆ HỘ SỬ DỤNG NGUỒN NƯỚC HỢP VỆ SINH</text>
<text transform="translate(723.35 416.80) scale(0.8908 1)" font-size="81" fill="#0071bc" font-weight="bold" stroke="#0071bc" stroke-width="1.6" stroke-linejoin="round">LÀ</text>
<text transform="translate(845.26 417.40) scale(1.0460 1)" font-size="115" fill="#ed0f6e" font-weight="bold" stroke="#ed0f6e" stroke-width="2.2" stroke-linejoin="round">98,7</text>
<text transform="translate(1081.49 417.40) scale(1.0074 1)" font-size="80" fill="#ed0f6e" font-weight="bold">%</text>
<text transform="translate(214.76 536.60) scale(0.9208 1)" font-size="55" fill="#111" font-style="italic">(Kết quả khảo sát mức sống dân cư năm 2024 do Cục Thống kê</text>
<text transform="translate(510.72 608.00) scale(0.9389 1)" font-size="55" fill="#111" font-style="italic">(Bộ Tài chính) công bố tháng 5/2025)</text>
<text transform="translate(887.13 1200.50) scale(0.9338 1)" font-size="53.5" fill="#0071bc" font-weight="bold" stroke="#0071bc" stroke-width="1.2" stroke-linejoin="round">CẢ NƯỚC</text>
<text transform="translate(888.50 1275.80) scale(0.9912 1)" font-size="55.5" fill="#53c2c0" font-weight="bold" stroke="#53c2c0" stroke-width="1.2" stroke-linejoin="round">Thành thị</text>
<text transform="translate(887.93 1349.20) scale(1.0250 1)" font-size="54" fill="#fbb055" font-weight="bold" stroke="#fbb055" stroke-width="1.2" stroke-linejoin="round">Nông thôn</text>
<text transform="translate(205.40 1409.70) scale(0.9424 1)" font-size="64.5" fill="#0071bc" font-weight="bold" stroke="#0071bc" stroke-width="1.0" stroke-linejoin="round">Tỷ lệ hộ sử dụng</text>
<text transform="translate(85.89 1492.80) scale(0.9534 1)" font-size="64.5" fill="#0071bc" font-weight="bold" stroke="#0071bc" stroke-width="1.0" stroke-linejoin="round">nguồn nước hợp vệ sinh</text>
<text transform="translate(203.46 1575.90) scale(0.9705 1)" font-size="64.5" fill="#0071bc" font-weight="bold" stroke="#0071bc" stroke-width="1.0" stroke-linejoin="round">qua các năm (%)</text>
<text transform="translate(1252.90 1409.70) scale(0.9459 1)" font-size="64.5" fill="#0071bc" font-weight="bold" stroke="#0071bc" stroke-width="1.0" stroke-linejoin="round">Tỷ lệ hộ sử dụng</text>
<text transform="translate(1191.38 1492.80) scale(0.9789 1)" font-size="64.5" fill="#0071bc" font-weight="bold" stroke="#0071bc" stroke-width="1.0" stroke-linejoin="round">nhà tiêu hợp vệ sinh</text>
<text transform="translate(1250.96 1575.90) scale(0.9705 1)" font-size="64.5" fill="#0071bc" font-weight="bold" stroke="#0071bc" stroke-width="1.0" stroke-linejoin="round">qua các năm (%)</text>
<text transform="translate(671.40 1706.40) scale(1.0486 1)" font-size="71" fill="#0071bc" font-weight="bold" stroke="#0071bc" stroke-width="1.0" stroke-linejoin="round">98,7</text>
<text transform="translate(1120.78 1706.40) scale(1.0104 1)" font-size="71" fill="#0071bc" font-weight="bold" stroke="#0071bc" stroke-width="1.0" stroke-linejoin="round">97,5</text>
<text transform="translate(671.40 1772.10) scale(1.0486 1)" font-size="71" fill="#53c2c0" font-weight="bold" stroke="#53c2c0" stroke-width="1.0" stroke-linejoin="round">99,7</text>
<text transform="translate(1120.78 1772.10) scale(1.0104 1)" font-size="71" fill="#53c2c0" font-weight="bold" stroke="#53c2c0" stroke-width="1.0" stroke-linejoin="round">99,5</text>
<text transform="translate(671.40 1827.10) scale(1.0486 1)" font-size="71" fill="#fbb055" font-weight="bold" stroke="#fbb055" stroke-width="1.0" stroke-linejoin="round">98,0</text>
<text transform="translate(1120.76 1827.10) scale(1.0180 1)" font-size="71" fill="#fbb055" font-weight="bold" stroke="#fbb055" stroke-width="1.0" stroke-linejoin="round">96,2</text>
<text transform="translate(923.09 1758.00) scale(0.9557 1)" font-size="55" fill="#000">2024</text>
<text transform="translate(704.72 1905.20) scale(1.0787 1)" font-size="53" fill="#0071bc" font-weight="bold" stroke="#0071bc" stroke-width="0.8" stroke-linejoin="round">98,6</text>
<text transform="translate(1151.63 1905.20) scale(1.0717 1)" font-size="53" fill="#0071bc" font-weight="bold" stroke="#0071bc" stroke-width="0.8" stroke-linejoin="round">96,7</text>
<text transform="translate(704.72 1960.20) scale(1.0787 1)" font-size="53" fill="#53c2c0" font-weight="bold" stroke="#53c2c0" stroke-width="0.8" stroke-linejoin="round">99,8</text>
<text transform="translate(1151.63 1960.20) scale(1.0717 1)" font-size="53" fill="#53c2c0" font-weight="bold" stroke="#53c2c0" stroke-width="0.8" stroke-linejoin="round">99,3</text>
<text transform="translate(704.72 2016.20) scale(1.0787 1)" font-size="53" fill="#fbb055" font-weight="bold" stroke="#fbb055" stroke-width="0.8" stroke-linejoin="round">97,8</text>
<text transform="translate(1151.70 2016.20) scale(1.0022 1)" font-size="53" fill="#fbb055" font-weight="bold" stroke="#fbb055" stroke-width="0.8" stroke-linejoin="round">95,1</text>
<text transform="translate(923.09 1955.70) scale(0.9557 1)" font-size="55" fill="#000">2023</text>
<text transform="translate(704.72 2102.95) scale(1.0787 1)" font-size="53" fill="#0071bc" font-weight="bold" stroke="#0071bc" stroke-width="0.8" stroke-linejoin="round">98,3</text>
<text transform="translate(1151.63 2102.95) scale(1.0717 1)" font-size="53" fill="#0071bc" font-weight="bold" stroke="#0071bc" stroke-width="0.8" stroke-linejoin="round">96,2</text>
<text transform="translate(704.72 2157.95) scale(1.0787 1)" font-size="53" fill="#53c2c0" font-weight="bold" stroke="#53c2c0" stroke-width="0.8" stroke-linejoin="round">99,7</text>
<text transform="translate(1151.63 2157.95) scale(1.0717 1)" font-size="53" fill="#53c2c0" font-weight="bold" stroke="#53c2c0" stroke-width="0.8" stroke-linejoin="round">99,2</text>
<text transform="translate(704.74 2213.95) scale(1.0577 1)" font-size="53" fill="#fbb055" font-weight="bold" stroke="#fbb055" stroke-width="0.8" stroke-linejoin="round">97,4</text>
<text transform="translate(1151.63 2213.95) scale(1.0717 1)" font-size="53" fill="#fbb055" font-weight="bold" stroke="#fbb055" stroke-width="0.8" stroke-linejoin="round">94,3</text>
<text transform="translate(923.07 2153.57) scale(0.9638 1)" font-size="55" fill="#000">2022</text>
<text transform="translate(704.79 2300.70) scale(1.0092 1)" font-size="53" fill="#0071bc" font-weight="bold" stroke="#0071bc" stroke-width="0.8" stroke-linejoin="round">98,1</text>
<text transform="translate(1151.63 2300.70) scale(1.0717 1)" font-size="53" fill="#0071bc" font-weight="bold" stroke="#0071bc" stroke-width="0.8" stroke-linejoin="round">95,6</text>
<text transform="translate(704.72 2355.70) scale(1.0787 1)" font-size="53" fill="#53c2c0" font-weight="bold" stroke="#53c2c0" stroke-width="0.8" stroke-linejoin="round">99,7</text>
<text transform="translate(1151.70 2355.70) scale(1.0022 1)" font-size="53" fill="#53c2c0" font-weight="bold" stroke="#53c2c0" stroke-width="0.8" stroke-linejoin="round">99,1</text>
<text transform="translate(704.72 2411.70) scale(1.0787 1)" font-size="53" fill="#fbb055" font-weight="bold" stroke="#fbb055" stroke-width="0.8" stroke-linejoin="round">97,0</text>
<text transform="translate(1151.65 2411.70) scale(1.0509 1)" font-size="53" fill="#fbb055" font-weight="bold" stroke="#fbb055" stroke-width="0.8" stroke-linejoin="round">93,4</text>
<text transform="translate(923.07 2351.44) scale(0.9638 1)" font-size="55" fill="#000">2021</text>
<text transform="translate(704.74 2498.45) scale(1.0577 1)" font-size="53" fill="#0071bc" font-weight="bold" stroke="#0071bc" stroke-width="0.8" stroke-linejoin="round">97,4</text>
<text transform="translate(1151.63 2498.45) scale(1.0717 1)" font-size="53" fill="#0071bc" font-weight="bold" stroke="#0071bc" stroke-width="0.8" stroke-linejoin="round">94,0</text>
<text transform="translate(704.72 2553.45) scale(1.0787 1)" font-size="53" fill="#53c2c0" font-weight="bold" stroke="#53c2c0" stroke-width="0.8" stroke-linejoin="round">99,5</text>
<text transform="translate(1151.63 2553.45) scale(1.0717 1)" font-size="53" fill="#53c2c0" font-weight="bold" stroke="#53c2c0" stroke-width="0.8" stroke-linejoin="round">98,8</text>
<text transform="translate(704.72 2609.45) scale(1.0787 1)" font-size="53" fill="#fbb055" font-weight="bold" stroke="#fbb055" stroke-width="0.8" stroke-linejoin="round">96,2</text>
<text transform="translate(1151.70 2609.45) scale(1.0022 1)" font-size="53" fill="#fbb055" font-weight="bold" stroke="#fbb055" stroke-width="0.8" stroke-linejoin="round">91,1</text>
<text transform="translate(923.09 2549.31) scale(0.9557 1)" font-size="55" fill="#000">2020</text>
<text transform="translate(704.72 2696.20) scale(1.0787 1)" font-size="53" fill="#0071bc" font-weight="bold" stroke="#0071bc" stroke-width="0.8" stroke-linejoin="round">95,7</text>
<text transform="translate(1151.63 2696.20) scale(1.0717 1)" font-size="53" fill="#0071bc" font-weight="bold" stroke="#0071bc" stroke-width="0.8" stroke-linejoin="round">90,3</text>
<text transform="translate(704.72 2751.20) scale(1.0787 1)" font-size="53" fill="#53c2c0" font-weight="bold" stroke="#53c2c0" stroke-width="0.8" stroke-linejoin="round">99,5</text>
<text transform="translate(1151.63 2751.20) scale(1.0717 1)" font-size="53" fill="#53c2c0" font-weight="bold" stroke="#53c2c0" stroke-width="0.8" stroke-linejoin="round">97,9</text>
<text transform="translate(704.72 2807.20) scale(1.0787 1)" font-size="53" fill="#fbb055" font-weight="bold" stroke="#fbb055" stroke-width="0.8" stroke-linejoin="round">93,7</text>
<text transform="translate(1151.65 2807.20) scale(1.0509 1)" font-size="53" fill="#fbb055" font-weight="bold" stroke="#fbb055" stroke-width="0.8" stroke-linejoin="round">86,4</text>
<text transform="translate(923.09 2747.18) scale(0.9557 1)" font-size="55" fill="#000">2018</text>
<text transform="translate(704.74 2893.95) scale(1.0577 1)" font-size="53" fill="#0071bc" font-weight="bold" stroke="#0071bc" stroke-width="0.8" stroke-linejoin="round">93,4</text>
<text transform="translate(1151.63 2893.95) scale(1.0717 1)" font-size="53" fill="#0071bc" font-weight="bold" stroke="#0071bc" stroke-width="0.8" stroke-linejoin="round">83,3</text>
<text transform="translate(704.72 2948.95) scale(1.0787 1)" font-size="53" fill="#53c2c0" font-weight="bold" stroke="#53c2c0" stroke-width="0.8" stroke-linejoin="round">99,0</text>
<text transform="translate(1151.63 2948.95) scale(1.0717 1)" font-size="53" fill="#53c2c0" font-weight="bold" stroke="#53c2c0" stroke-width="0.8" stroke-linejoin="round">96,2</text>
<text transform="translate(704.72 3004.95) scale(1.0787 1)" font-size="53" fill="#fbb055" font-weight="bold" stroke="#fbb055" stroke-width="0.8" stroke-linejoin="round">90,8</text>
<text transform="translate(1150.54 3004.95) scale(1.0825 1)" font-size="53" fill="#fbb055" font-weight="bold" stroke="#fbb055" stroke-width="0.8" stroke-linejoin="round">77,0</text>
<text transform="translate(923.09 2945.05) scale(0.9557 1)" font-size="55" fill="#000">2016</text>
<text transform="translate(704.72 3091.70) scale(1.0787 1)" font-size="53" fill="#0071bc" font-weight="bold" stroke="#0071bc" stroke-width="0.8" stroke-linejoin="round">93,0</text>
<text transform="translate(1151.70 3091.70) scale(1.0022 1)" font-size="53" fill="#0071bc" font-weight="bold" stroke="#0071bc" stroke-width="0.8" stroke-linejoin="round">80,1</text>
<text transform="translate(704.72 3146.70) scale(1.0787 1)" font-size="53" fill="#53c2c0" font-weight="bold" stroke="#53c2c0" stroke-width="0.8" stroke-linejoin="round">98,3</text>
<text transform="translate(1151.63 3146.70) scale(1.0717 1)" font-size="53" fill="#53c2c0" font-weight="bold" stroke="#53c2c0" stroke-width="0.8" stroke-linejoin="round">94,6</text>
<text transform="translate(704.72 3202.70) scale(1.0787 1)" font-size="53" fill="#fbb055" font-weight="bold" stroke="#fbb055" stroke-width="0.8" stroke-linejoin="round">90,6</text>
<text transform="translate(1150.54 3202.70) scale(1.0825 1)" font-size="53" fill="#fbb055" font-weight="bold" stroke="#fbb055" stroke-width="0.8" stroke-linejoin="round">73,6</text>
<text transform="translate(923.09 3142.92) scale(0.9557 1)" font-size="55" fill="#000">2014</text>
<text transform="translate(930.59 1667.60) scale(1.0024 1)" font-size="48" fill="#000" font-weight="bold" stroke="#000" stroke-width="0.6" stroke-linejoin="round">Năm</text>
<text transform="translate(46.92 3333.00) scale(0.9812 1)" font-size="41.5" fill="#111" font-style="italic">(*) Nhà tiêu hợp vệ sinh bao gồm:</text>
<text transform="translate(44.95 3387.50) scale(0.9834 1)" font-size="41.5" fill="#111" font-style="italic">Tự hoại, bán tự hoại, thấm dội nước, hai ngăn và cải tiến có ống thông hơi</text>
<text transform="translate(46.94 3484.80) scale(0.9816 1)" font-size="40.5" fill="#000" font-weight="bold" stroke="#000" stroke-width="0.6" stroke-linejoin="round">Nguồn: Cục Thống kê</text>
<text transform="translate(48.00 3565.30) scale(0.8793 1)" font-size="44.5" fill="#fff" font-weight="bold" font-style="italic">infographics.vn</text>
<text transform="translate(1511.21 3517.60) scale(0.9920 1)" font-size="70" fill="#3c55a5" stroke="#3c55a5" stroke-width="1.5" stroke-linejoin="round">©</text>
<text transform="translate(1670.30 3538.30) scale(1.1994 1)" font-size="12.3" fill="#e21b2c" font-weight="bold" stroke="#e21b2c" stroke-width="0.5" stroke-linejoin="round">Vietnam News Agency</text>
<text y="3520.20" font-size="67" font-weight="bold" fill="#3c55a5" stroke="#3c55a5" stroke-width="10" stroke-linejoin="miter"><tspan x="1590.60" textLength="30.35" lengthAdjust="spacingAndGlyphs">T</tspan><tspan x="1632.00" textLength="30.54" lengthAdjust="spacingAndGlyphs">T</tspan><tspan x="1674.20" textLength="52.43" lengthAdjust="spacingAndGlyphs">X</tspan><tspan x="1736.00" textLength="38.23" lengthAdjust="spacingAndGlyphs" fill="#e21b2c" stroke="#e21b2c">V</tspan><tspan x="1783.33" textLength="43.18" lengthAdjust="spacingAndGlyphs">N</tspan></text>
<ellipse cx="1750.7" cy="3505" rx="30" ry="9" fill="none" stroke="#e21b2c" stroke-width="2" transform="rotate(-20 1750.7 3505)"/>
<circle cx="1746.2" cy="3504.4" r="13.5" fill="#4f68b3" stroke="#fff" stroke-width="1.6"/>
<path d="M1738 3498 q5 -5 10 -2 q4 3 2 8 q-3 5 -7 3 q-6 -3 -5 -9z" fill="#d9def0" opacity=".85"/>
<path d="M1730 3512 A30 9 -20 0 0 1779 3497" fill="none" stroke="#e21b2c" stroke-width="2"/>
</svg>
</body></html>
